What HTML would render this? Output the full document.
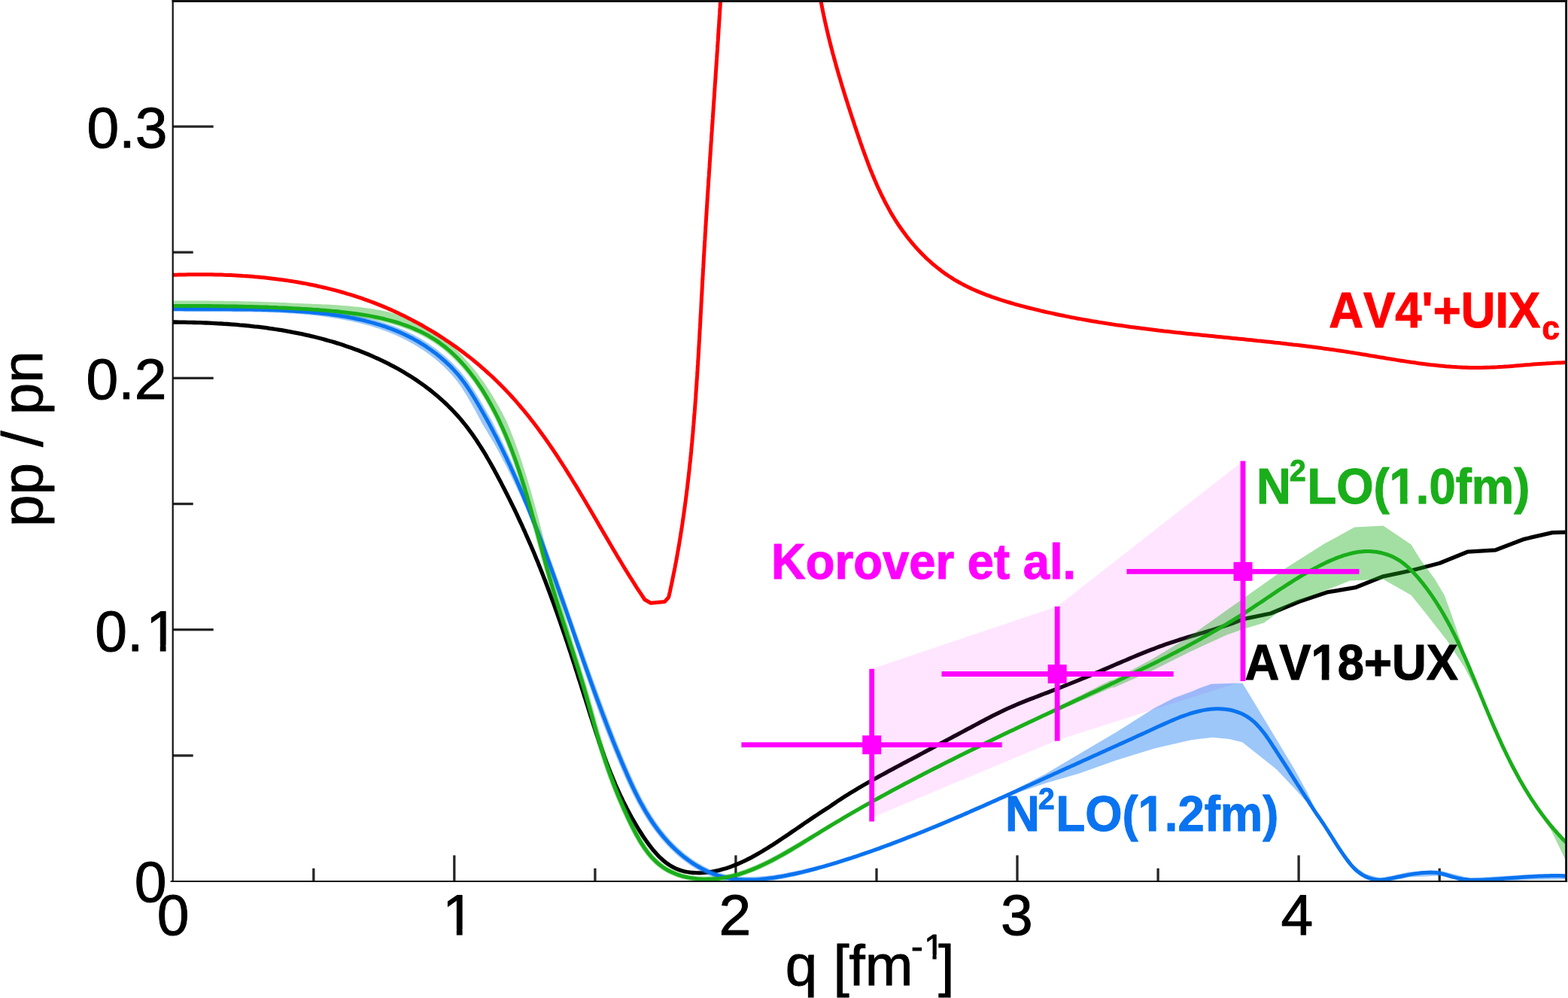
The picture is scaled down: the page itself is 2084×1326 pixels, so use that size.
<!DOCTYPE html>
<html lang="en">
<head>
<meta charset="utf-8">
<title>pp / pn ratio versus q</title>
<style>
html,body{margin:0;padding:0;background:#fff;}
body{width:2084px;height:1326px;overflow:hidden;}
svg{display:block;}
</style>
</head>
<body>
<svg xmlns="http://www.w3.org/2000/svg" width="2084" height="1326" viewBox="0 0 2084 1326">
<rect width="2084" height="1326" fill="#fff"/>
<defs><clipPath id="cp"><rect x="229.7" y="0" width="1851.9" height="1172.0"/></clipPath></defs>
<g stroke="#262626" stroke-width="3.3" fill="none">
<line x1="416.8" y1="1171.0" x2="416.8" y2="1153.7"/>
<line x1="603.8" y1="1171.0" x2="603.8" y2="1136.4"/>
<line x1="790.9" y1="1171.0" x2="790.9" y2="1153.7"/>
<line x1="977.9" y1="1171.0" x2="977.9" y2="1136.4"/>
<line x1="1165.0" y1="1171.0" x2="1165.0" y2="1153.7"/>
<line x1="1352.0" y1="1171.0" x2="1352.0" y2="1136.4"/>
<line x1="1539.1" y1="1171.0" x2="1539.1" y2="1153.7"/>
<line x1="1726.1" y1="1171.0" x2="1726.1" y2="1136.4"/>
<line x1="1913.2" y1="1171.0" x2="1913.2" y2="1153.7"/>
<line x1="229.7" y1="1003.9" x2="256.7" y2="1003.9"/>
<line x1="229.7" y1="836.7" x2="283.7" y2="836.7"/>
<line x1="229.7" y1="669.5" x2="256.7" y2="669.5"/>
<line x1="229.7" y1="502.4" x2="283.7" y2="502.4"/>
<line x1="229.7" y1="335.2" x2="256.7" y2="335.2"/>
<line x1="229.7" y1="168.1" x2="283.7" y2="168.1"/>
</g>
<g clip-path="url(#cp)">
<path d="M229.9 428.0L233.9 428.0L237.9 428.1L241.9 428.1L246.0 428.2L250.0 428.3L254.0 428.4L258.0 428.5L262.0 428.6L266.1 428.7L270.1 428.8L274.1 429.0L278.1 429.2L282.1 429.4L286.2 429.6L290.2 429.8L294.2 430.0L298.2 430.3L302.2 430.5L306.3 430.8L310.3 431.1L314.3 431.4L318.3 431.8L322.3 432.1L326.3 432.5L330.3 432.9L334.3 433.3L338.3 433.8L342.3 434.2L346.3 434.7L350.3 435.2L354.3 435.7L358.3 436.3L362.3 436.9L366.3 437.5L370.2 438.1L374.2 438.7L378.2 439.4L382.1 440.1L386.1 440.8L390.0 441.6L394.0 442.3L397.9 443.1L401.9 443.9L405.8 444.8L409.7 445.7L413.6 446.6L417.6 447.5L421.5 448.5L425.4 449.5L429.3 450.5L433.1 451.6L437.0 452.7L440.9 453.8L444.8 454.9L448.6 456.1L452.5 457.3L456.3 458.6L460.1 459.9L464.0 461.2L467.8 462.5L471.6 463.9L475.4 465.3L479.1 466.8L482.9 468.3L486.6 469.8L490.4 471.3L494.1 472.9L497.8 474.6L501.5 476.2L505.1 477.9L508.8 479.6L512.4 481.4L516.0 483.2L519.6 485.1L523.1 486.9L526.7 488.8L530.2 490.8L533.7 492.8L537.1 494.8L540.6 496.9L544.0 499.0L547.4 501.1L550.7 503.3L554.1 505.5L557.4 507.8L560.6 510.1L563.9 512.4L567.1 514.8L570.2 517.2L573.4 519.7L576.5 522.2L579.6 524.7L582.6 527.3L585.6 529.9L588.6 532.6L591.5 535.3L594.4 538.0L597.2 540.8L600.0 543.7L602.8 546.5L605.5 549.5L608.2 552.4L610.9 555.4L613.5 558.5L616.0 561.6L618.5 564.7L621.0 567.9L623.4 571.1L625.8 574.3L628.2 577.6L630.5 580.9L632.8 584.3L635.0 587.7L637.2 591.1L639.4 594.5L641.6 598.0L643.7 601.4L645.8 604.9L647.8 608.5L649.9 612.0L651.9 615.5L653.9 619.1L655.9 622.6L657.8 626.2L659.8 629.8L661.7 633.4L663.6 637.0L665.5 640.6L667.3 644.1L669.2 647.7L671.0 651.3L672.9 654.9L674.7 658.5L676.5 662.1L678.3 665.7L680.0 669.3L681.8 672.9L683.6 676.5L685.3 680.1L687.0 683.7L688.7 687.4L690.4 691.0L692.1 694.6L693.8 698.2L695.4 701.9L697.1 705.5L698.7 709.2L700.3 712.8L701.9 716.5L703.5 720.1L705.1 723.8L706.7 727.5L708.2 731.1L709.8 734.8L711.3 738.5L712.8 742.2L714.4 745.9L715.9 749.7L717.4 753.4L718.8 757.1L720.3 760.8L721.8 764.6L723.2 768.3L724.7 772.0L726.1 775.8L727.5 779.6L728.9 783.3L730.3 787.1L731.7 790.8L733.1 794.6L734.5 798.4L735.9 802.2L737.3 806.0L738.6 809.8L740.0 813.6L741.3 817.3L742.6 821.2L744.0 825.0L745.3 828.8L746.6 832.6L747.9 836.4L749.2 840.2L750.5 844.0L751.8 847.8L753.1 851.7L754.4 855.5L755.6 859.3L756.9 863.2L758.2 867.0L759.4 870.8L760.7 874.7L761.9 878.5L763.2 882.3L764.4 886.2L765.6 890.0L766.9 893.9L768.1 897.7L769.3 901.6L770.6 905.4L771.8 909.3L773.0 913.1L774.2 917.0L775.4 920.8L776.6 924.7L777.9 928.5L779.1 932.4L780.3 936.2L781.5 940.0L782.7 943.9L783.9 947.7L785.1 951.6L786.4 955.4L787.6 959.2L788.8 963.1L790.1 966.9L791.3 970.7L792.6 974.6L793.9 978.4L795.2 982.2L796.4 986.0L797.8 989.8L799.1 993.6L800.4 997.4L801.8 1001.1L803.1 1004.9L804.5 1008.7L805.9 1012.5L807.4 1016.2L808.8 1019.9L810.3 1023.7L811.8 1027.4L813.3 1031.1L814.8 1034.8L816.4 1038.5L817.9 1042.2L819.5 1045.9L821.2 1049.6L822.8 1053.2L824.5 1056.9L826.3 1060.5L828.0 1064.1L829.8 1067.7L831.6 1071.3L833.5 1074.9L835.4 1078.5L837.3 1082.0L839.2 1085.6L841.2 1089.1L843.3 1092.6L845.3 1096.1L847.4 1099.6L849.6 1103.1L851.8 1106.5L854.0 1110.0L856.3 1113.4L858.6 1116.8L861.0 1120.1L863.4 1123.4L865.9 1126.6L868.4 1129.8L871.1 1132.8L873.8 1135.8L876.5 1138.6L879.4 1141.3L882.3 1143.9L885.4 1146.3L888.5 1148.5L891.7 1150.6L895.0 1152.4L898.5 1154.1L902.0 1155.5L905.7 1156.8L909.5 1157.8L913.3 1158.5L917.2 1159.1L921.2 1159.5L925.2 1159.7L929.2 1159.8L933.3 1159.6L937.3 1159.3L941.3 1158.9L945.3 1158.4L949.3 1157.7L953.2 1156.8L957.1 1155.9L961.0 1154.8L964.9 1153.7L968.8 1152.4L972.7 1151.0L976.5 1149.5L980.3 1148.0L984.0 1146.3L987.8 1144.6L991.5 1142.8L995.2 1141.0L998.9 1139.1L1002.5 1137.1L1006.1 1135.1L1009.7 1133.0L1013.2 1131.0L1016.7 1128.8L1020.2 1126.7L1023.6 1124.5L1027.0 1122.4L1030.4 1120.2L1033.8 1118.0L1037.1 1115.8L1040.3 1113.6L1043.6 1111.5L1046.9 1109.3L1050.1 1107.0L1053.3 1104.8L1056.6 1102.6L1059.8 1100.4L1063.0 1098.2L1066.2 1096.0L1069.5 1093.7L1072.8 1091.5L1076.1 1089.3L1079.4 1087.0L1082.7 1084.8L1086.1 1082.6L1089.5 1080.3L1093.0 1078.1L1096.5 1075.8L1100.0 1073.6L1103.3 1071.3L1106.6 1069.0L1110.0 1066.7L1113.3 1064.4L1116.7 1062.2L1120.1 1060.0L1123.5 1057.8L1126.9 1055.7L1130.3 1053.6L1133.8 1051.5L1137.2 1049.4L1140.7 1047.3L1144.2 1045.3L1147.6 1043.3L1151.1 1041.3L1154.6 1039.3L1158.1 1037.3L1161.6 1035.3L1165.2 1033.4L1168.7 1031.4L1172.2 1029.5L1175.8 1027.6L1179.3 1025.6L1182.9 1023.7L1186.4 1021.8L1190.0 1019.9L1193.5 1018.0L1197.1 1016.1L1200.6 1014.2L1204.2 1012.3L1207.7 1010.4L1211.3 1008.6L1214.9 1006.7L1218.4 1004.8L1222.0 1002.9L1225.5 1001.0L1229.1 999.1L1232.7 997.2L1236.2 995.3L1239.8 993.4L1243.3 991.5L1246.9 989.6L1250.4 987.7L1254.0 985.8L1257.6 983.9L1261.1 982.0L1264.7 980.1L1268.2 978.2L1271.8 976.3L1275.3 974.4L1278.9 972.5L1282.4 970.6L1286.0 968.7L1289.6 966.8L1293.1 964.9L1296.7 963.0L1300.2 961.1L1303.8 959.2L1307.3 957.3L1310.9 955.4L1314.5 953.6L1318.1 951.7L1321.7 949.9L1325.3 948.1L1328.9 946.3L1332.5 944.6L1336.1 942.9L1339.8 941.2L1343.4 939.6L1347.1 938.0L1350.8 936.4L1354.5 934.8L1358.3 933.3L1362.0 931.8L1365.7 930.3L1369.5 928.8L1373.2 927.4L1377.0 925.9L1380.8 924.5L1384.5 923.1L1388.3 921.6L1392.1 920.2L1395.8 918.7L1399.6 917.3L1403.4 915.8L1407.1 914.4L1410.9 912.9L1414.6 911.4L1418.4 909.9L1422.1 908.4L1425.8 906.9L1429.6 905.4L1433.3 903.9L1437.0 902.3L1440.8 900.8L1444.5 899.2L1448.2 897.7L1451.9 896.1L1455.6 894.5L1459.4 893.0L1463.1 891.4L1466.8 889.8L1470.5 888.2L1474.2 886.6L1477.9 885.0L1481.6 883.4L1485.3 881.8L1489.0 880.2L1492.7 878.6L1496.4 877.1L1500.1 875.5L1503.8 873.9L1507.5 872.4L1511.3 870.8L1515.0 869.3L1518.7 867.8L1522.5 866.3L1526.2 864.8L1530.0 863.3L1533.7 861.9L1537.5 860.4L1541.2 859.0L1545.0 857.7L1548.8 856.3L1552.6 855.0L1556.4 853.7L1560.3 852.4L1564.1 851.2L1567.9 849.9L1571.8 848.7L1575.6 847.6L1579.5 846.4L1583.4 845.2L1587.2 844.1L1591.1 843.0L1595.0 841.8L1598.8 840.7L1602.7 839.5L1606.6 838.4L1610.4 837.2L1614.3 836.0L1618.1 834.8L1622.0 833.6L1625.8 832.3L1629.6 831.0L1633.5 829.7L1637.3 828.4L1641.0 827.0L1644.8 825.6L1648.6 824.1L1652.3 822.6L1688.9 815.0L1726.3 799.5L1763.7 786.9L1801.1 780.7L1838.5 765.8L1875.9 758.0L1913.4 748.2L1950.4 733.2L1987.8 730.8L2025.7 716.3L2063.3 707.6L2090.0 707.0" fill="none" stroke="#000000" stroke-width="5.3" stroke-linejoin="round"/>
<path d="M1158.7 888.7L1405.2 805.8L1652.2 612.4L1652.2 905.0L1405.2 983.4L1158.7 1086.5Z" fill="#ff00ff" fill-opacity="0.1" stroke="none"/>
<path d="M229.9 407.0L234.0 407.1L238.0 407.1L242.0 407.1L246.0 407.2L250.0 407.2L254.1 407.2L258.1 407.2L262.1 407.2L266.1 407.3L270.1 407.3L274.1 407.3L278.1 407.3L282.1 407.3L286.1 407.3L290.1 407.3L294.1 407.3L298.1 407.3L302.1 407.3L306.1 407.3L310.2 407.4L314.2 407.4L318.2 407.4L322.2 407.5L326.2 407.5L330.2 407.6L334.2 407.6L338.2 407.7L342.2 407.8L346.2 407.8L350.2 407.9L354.2 408.1L358.2 408.2L362.2 408.3L366.2 408.5L370.2 408.6L374.2 408.8L378.2 409.0L382.2 409.2L386.3 409.4L390.3 409.7L394.3 409.9L398.3 410.2L402.3 410.5L406.3 410.8L410.4 411.1L414.4 411.4L418.4 411.7L422.5 412.1L426.5 412.5L430.5 412.9L434.6 413.3L438.6 413.8L442.6 414.3L446.7 414.8L450.7 415.4L454.7 416.0L458.7 416.6L462.7 417.3L466.7 418.0L470.7 418.7L474.7 419.5L478.7 420.3L482.7 421.2L486.6 422.1L490.6 423.1L494.5 424.1L498.4 425.1L502.3 426.2L506.2 427.4L510.1 428.6L513.9 429.9L517.8 431.2L521.6 432.5L525.4 434.0L529.2 435.5L532.9 437.0L536.7 438.6L540.4 440.3L544.0 442.0L547.7 443.8L551.3 445.7L554.9 447.7L558.5 449.7L562.0 451.8L565.5 454.0L569.0 456.2L572.4 458.5L575.7 460.9L579.1 463.3L582.3 465.8L585.6 468.4L588.8 471.0L591.9 473.7L595.0 476.4L598.0 479.2L600.9 482.1L603.8 485.0L606.7 488.0L609.5 491.0L612.2 494.1L614.8 497.3L617.4 500.5L619.9 503.8L622.3 507.1L624.6 510.4L626.9 513.8L629.1 517.2L631.3 520.6L633.4 524.1L635.5 527.5L637.6 531.0L639.7 534.5L641.7 537.9L643.7 541.4L645.8 544.9L647.7 548.4L649.7 552.0L651.7 555.5L653.6 559.0L655.4 562.6L657.3 566.2L659.1 569.8L660.9 573.4L662.7 577.0L664.5 580.6L666.3 584.2L668.1 587.9L669.8 591.5L671.5 595.1L673.2 598.8L674.9 602.4L676.6 606.1L678.3 609.8L679.9 613.5L681.6 617.1L683.2 620.8L684.8 624.5L686.4 628.2L688.0 631.9L689.6 635.6L691.2 639.3L692.8 643.0L694.3 646.7L695.8 650.4L697.4 654.2L698.9 657.9L700.4 661.6L701.9 665.3L703.4 669.1L704.9 672.8L706.4 676.5L707.9 680.2L709.4 684.0L710.9 687.7L712.4 691.4L713.8 695.2L715.3 698.9L716.7 702.6L718.2 706.4L719.6 710.1L721.0 713.9L722.4 717.6L723.9 721.4L725.3 725.1L726.7 728.9L728.1 732.6L729.4 736.4L730.8 740.2L732.2 743.9L733.6 747.7L734.9 751.5L736.3 755.2L737.6 759.0L739.0 762.8L740.3 766.5L741.7 770.3L743.0 774.1L744.3 777.9L745.7 781.6L747.0 785.4L748.3 789.2L749.6 793.0L751.0 796.8L752.3 800.5L753.6 804.3L754.9 808.1L756.2 811.9L757.5 815.7L758.9 819.4L760.2 823.2L761.5 827.0L762.8 830.8L764.1 834.6L765.4 838.4L766.7 842.1L768.1 845.9L769.4 849.7L770.7 853.5L772.1 857.2L773.4 861.0L774.7 864.8L776.0 868.6L777.4 872.3L778.7 876.1L780.1 879.9L781.4 883.6L782.7 887.4L784.1 891.2L785.4 895.0L786.8 898.7L788.2 902.5L789.5 906.3L790.9 910.0L792.3 913.8L793.6 917.5L795.0 921.3L796.4 925.0L797.8 928.8L799.2 932.6L800.6 936.3L802.0 940.1L803.4 943.8L804.9 947.5L806.3 951.3L807.7 955.0L809.1 958.8L810.6 962.5L812.0 966.3L813.5 970.0L814.9 973.7L816.4 977.5L817.9 981.2L819.3 984.9L820.8 988.6L822.3 992.4L823.8 996.1L825.4 999.8L826.9 1003.5L828.4 1007.2L830.0 1010.9L831.6 1014.6L833.1 1018.3L834.7 1022.0L836.3 1025.7L837.9 1029.3L839.6 1033.0L841.2 1036.6L842.9 1040.3L844.6 1043.9L846.3 1047.5L848.1 1051.1L849.8 1054.6L851.6 1058.2L853.5 1061.7L855.3 1065.2L857.3 1068.6L859.2 1072.0L861.2 1075.5L863.2 1078.8L865.3 1082.2L867.4 1085.5L869.5 1088.8L871.7 1092.0L874.0 1095.2L876.3 1098.3L878.6 1101.5L881.0 1104.5L883.5 1107.6L886.0 1110.6L888.6 1113.5L891.2 1116.4L893.9 1119.3L896.7 1122.1L899.5 1124.8L902.4 1127.5L905.3 1130.1L908.4 1132.7L911.4 1135.2L914.6 1137.6L917.7 1140.0L921.0 1142.3L924.3 1144.5L927.6 1146.5L931.0 1148.5L934.4 1150.4L937.9 1152.2L941.3 1153.9L944.9 1155.5L948.5 1157.0L952.1 1158.3L955.7 1159.5L959.3 1160.6L963.0 1161.6L966.8 1162.4L970.5 1163.1L974.3 1163.7L978.1 1164.2L981.9 1164.6L985.8 1164.8L989.7 1165.0L993.6 1165.0L997.5 1165.0L1001.4 1164.9L1005.4 1164.8L1009.3 1164.5L1013.3 1164.2L1017.3 1163.9L1021.3 1163.5L1025.3 1163.0L1029.2 1162.4L1033.2 1161.8L1037.2 1161.2L1041.2 1160.5L1045.1 1159.8L1049.1 1159.1L1053.0 1158.3L1056.9 1157.5L1060.8 1156.7L1064.7 1155.9L1068.6 1155.0L1072.5 1154.1L1076.3 1153.2L1080.2 1152.2L1084.0 1151.3L1087.9 1150.3L1091.7 1149.3L1095.5 1148.2L1099.3 1147.2L1103.1 1146.1L1106.9 1144.9L1110.7 1143.8L1114.5 1142.6L1118.3 1141.4L1122.1 1140.2L1125.8 1139.0L1129.6 1137.8L1133.4 1136.5L1137.2 1135.3L1140.9 1134.0L1144.7 1132.7L1148.5 1131.5L1152.2 1130.2L1156.0 1128.8L1159.8 1127.5L1163.5 1126.2L1167.3 1124.8L1171.1 1123.5L1174.8 1122.1L1178.6 1120.7L1182.3 1119.3L1186.1 1117.9L1189.8 1116.5L1193.6 1115.1L1197.3 1113.6L1201.0 1112.2L1204.8 1110.7L1208.5 1109.3L1212.3 1107.8L1216.0 1106.3L1219.7 1104.9L1223.5 1103.4L1227.2 1101.9L1230.9 1100.3L1234.6 1098.8L1238.3 1097.3L1242.1 1095.8L1245.8 1094.2L1249.5 1092.7L1253.2 1091.1L1256.9 1089.6L1260.6 1088.0L1264.3 1086.4L1268.0 1084.8L1271.7 1083.3L1275.4 1081.7L1279.1 1080.1L1282.8 1078.5L1286.5 1076.9L1290.2 1075.3L1293.9 1073.6L1297.6 1072.0L1301.3 1070.4L1304.9 1068.8L1308.6 1067.2L1312.3 1065.5L1316.0 1063.9L1319.6 1062.3L1323.3 1060.6L1327.0 1059.0L1330.6 1057.3L1334.3 1055.7L1338.0 1054.0L1341.6 1052.4L1345.3 1050.7L1348.9 1049.1L1352.0 1047.5L1390.0 1028.0L1434.0 1002.0L1484.0 972.5L1534.0 940.9L1560.0 927.5L1584.0 918.8L1595.0 914.0L1610.0 908.8L1651.3 907.5L1685.9 964.8L1720.4 1022.0L1737.0 1052.0L1750.0 1078.5L1767.2 1104.5L1786.4 1133.0L1800.0 1151.0L1815.0 1161.0L1834.0 1166.5L1850.0 1163.5L1872.7 1158.5L1913.0 1156.5L1953.0 1166.5L2034.0 1162.0L2090.0 1161.0L2090.0 1168.0L2034.0 1169.0L1953.0 1173.0L1913.0 1163.5L1872.7 1165.5L1850.0 1170.5L1834.0 1173.0L1815.0 1168.0L1800.0 1158.0L1786.4 1140.0L1767.2 1111.0L1750.0 1085.0L1737.0 1066.0L1720.0 1047.0L1696.4 1022.0L1651.3 986.2L1634.0 982.0L1611.5 979.8L1584.0 983.1L1534.0 994.6L1484.0 1010.0L1434.0 1027.7L1390.0 1040.5L1352.0 1053.5L1351.1 1053.8L1347.4 1055.5L1343.8 1057.1L1340.1 1058.8L1336.4 1060.4L1332.8 1062.1L1329.1 1063.7L1325.4 1065.4L1321.8 1067.0L1318.1 1068.6L1314.4 1070.3L1310.7 1071.9L1307.0 1073.5L1303.4 1075.2L1299.7 1076.8L1296.0 1078.4L1292.3 1080.0L1288.6 1081.6L1284.9 1083.2L1281.2 1084.8L1277.5 1086.4L1273.8 1088.0L1270.1 1089.6L1266.4 1091.2L1262.7 1092.8L1258.9 1094.4L1255.2 1095.9L1251.5 1097.5L1247.8 1099.0L1244.1 1100.6L1240.3 1102.1L1236.6 1103.6L1232.9 1105.2L1229.1 1106.7L1225.4 1108.2L1221.7 1109.7L1217.9 1111.2L1214.2 1112.7L1210.4 1114.1L1206.7 1115.6L1202.9 1117.1L1199.2 1118.5L1195.4 1119.9L1191.7 1121.4L1187.9 1122.8L1184.1 1124.2L1180.4 1125.6L1176.6 1127.0L1172.8 1128.4L1169.1 1129.7L1165.3 1131.1L1161.5 1132.4L1157.7 1133.7L1154.0 1135.1L1150.2 1136.4L1146.4 1137.7L1142.6 1139.0L1138.8 1140.2L1135.0 1141.5L1131.2 1142.7L1127.4 1144.0L1123.6 1145.2L1119.8 1146.4L1116.0 1147.6L1112.2 1148.7L1108.4 1149.9L1104.6 1151.0L1100.8 1152.2L1097.0 1153.3L1093.1 1154.5L1089.3 1155.6L1085.5 1156.7L1081.6 1157.8L1077.8 1158.8L1073.9 1159.9L1070.0 1160.9L1066.1 1161.9L1062.2 1162.8L1058.3 1163.8L1054.3 1164.7L1050.4 1165.6L1046.4 1166.4L1042.4 1167.2L1038.4 1168.0L1034.4 1168.8L1030.3 1169.5L1026.3 1170.2L1022.2 1170.8L1018.1 1171.3L1014.0 1171.8L1010.0 1172.2L1005.9 1172.6L1001.8 1172.9L997.6 1173.0L993.5 1173.0L989.5 1173.0L985.4 1172.8L981.3 1172.5L977.2 1172.2L973.2 1171.7L969.2 1171.0L965.1 1170.3L961.2 1169.4L957.2 1168.3L953.3 1167.2L949.4 1165.9L945.5 1164.4L941.7 1162.9L938.0 1161.2L934.3 1159.4L930.6 1157.5L927.0 1155.5L923.4 1153.4L919.9 1151.2L916.5 1148.9L913.1 1146.5L909.7 1144.0L906.4 1141.5L903.2 1138.9L900.1 1136.2L897.0 1133.4L894.0 1130.6L891.0 1127.7L888.1 1124.8L885.3 1121.9L882.6 1118.8L879.9 1115.8L877.3 1112.7L874.7 1109.5L872.3 1106.3L869.8 1103.1L867.4 1099.8L865.1 1096.5L862.9 1093.2L860.6 1089.8L858.5 1086.4L856.4 1083.0L854.3 1079.5L852.3 1076.0L850.3 1072.5L848.3 1069.0L846.4 1065.4L844.5 1061.8L842.7 1058.2L840.9 1054.6L839.1 1051.0L837.4 1047.3L835.6 1043.6L833.9 1040.0L832.3 1036.3L830.6 1032.6L829.0 1028.9L827.4 1025.2L825.8 1021.5L824.2 1017.7L822.6 1014.0L821.1 1010.3L819.5 1006.6L818.0 1002.8L816.4 999.1L814.9 995.4L813.4 991.6L811.9 987.9L810.4 984.1L808.9 980.4L807.5 976.7L806.0 972.9L804.5 969.2L803.1 965.4L801.6 961.6L800.2 957.9L798.8 954.1L797.4 950.4L796.0 946.6L794.6 942.8L793.2 939.0L791.9 935.3L790.5 931.5L789.2 927.7L787.8 923.9L786.5 920.1L785.1 916.3L783.8 912.6L782.5 908.8L781.2 905.0L779.9 901.2L778.5 897.4L777.2 893.6L775.9 889.8L774.6 886.0L773.3 882.2L772.0 878.4L770.8 874.6L769.5 870.9L768.2 867.1L766.9 863.3L765.6 859.5L764.3 855.7L763.0 851.9L761.8 848.1L760.5 844.3L759.2 840.5L757.9 836.7L756.6 832.9L755.3 829.1L754.0 825.4L752.7 821.6L751.4 817.8L750.1 814.0L748.8 810.2L747.5 806.5L746.1 802.7L744.8 798.9L743.5 795.1L742.2 791.3L740.9 787.6L739.5 783.8L738.2 780.0L736.9 776.3L735.5 772.5L734.2 768.7L732.9 765.0L731.5 761.2L730.2 757.4L728.8 753.7L727.4 749.9L726.1 746.2L724.7 742.4L723.3 738.6L722.0 734.9L720.6 731.2L719.2 727.4L717.8 723.7L716.4 719.9L715.0 716.2L713.5 712.4L712.1 708.7L710.7 705.0L709.2 701.2L707.8 697.5L706.3 693.8L704.9 690.1L703.4 686.4L701.9 682.6L700.4 678.9L698.9 675.2L697.4 671.5L695.8 667.9L694.1 664.2L692.5 660.6L690.8 656.9L689.1 653.3L687.4 649.7L685.8 646.0L684.0 642.4L682.3 638.8L680.6 635.2L678.8 631.6L677.1 628.0L675.3 624.4L673.5 620.8L671.7 617.3L669.8 613.7L668.0 610.2L666.1 606.6L664.3 603.1L662.4 599.6L660.5 596.1L658.5 592.6L656.6 589.1L654.6 585.7L652.6 582.2L650.5 578.8L648.5 575.4L646.5 571.9L644.4 568.5L642.3 565.2L640.3 561.7L638.5 558.2L636.6 554.7L634.7 551.2L632.8 547.7L630.9 544.2L629.0 540.8L627.0 537.3L625.1 533.9L623.1 530.4L621.1 527.1L619.1 523.7L617.0 520.4L614.9 517.1L612.8 513.8L610.6 510.7L608.3 507.6L605.9 504.5L603.5 501.6L600.9 498.6L598.3 495.8L595.7 492.9L593.0 490.2L590.2 487.5L587.3 484.8L584.4 482.2L581.5 479.6L578.5 477.2L575.5 474.7L572.4 472.3L569.2 470.0L566.0 467.7L562.8 465.5L559.5 463.4L556.2 461.3L552.9 459.3L549.5 457.3L546.1 455.4L542.7 453.5L539.3 451.7L535.8 450.0L532.3 448.3L528.8 446.6L525.2 445.0L521.6 443.5L518.0 442.0L514.4 440.6L510.7 439.2L507.0 437.9L503.3 436.6L499.6 435.4L495.8 434.2L492.0 433.1L488.2 432.0L484.4 431.0L480.6 430.0L476.7 429.1L472.9 428.2L469.0 427.3L465.1 426.5L461.2 425.7L457.3 424.9L453.4 424.2L449.4 423.5L445.5 422.9L441.5 422.3L437.6 421.7L433.6 421.1L429.6 420.6L425.7 420.1L421.7 419.6L417.7 419.1L413.7 418.7L409.7 418.3L405.8 417.9L401.8 417.5L397.8 417.2L393.8 416.9L389.8 416.6L385.9 416.4L381.9 416.2L377.9 416.0L373.9 415.8L369.9 415.6L365.9 415.5L362.0 415.3L358.0 415.2L354.0 415.1L350.0 414.9L346.0 414.8L342.0 414.8L338.0 414.7L334.1 414.6L330.1 414.6L326.1 414.5L322.1 414.5L318.1 414.4L314.1 414.4L310.1 414.4L306.1 414.3L302.1 414.3L298.1 414.3L294.1 414.3L290.1 414.3L286.1 414.3L282.1 414.3L278.1 414.3L274.1 414.3L270.1 414.3L266.1 414.3L262.1 414.2L258.0 414.2L254.0 414.2L250.0 414.2L246.0 414.2L241.9 414.1L237.9 414.1L233.9 414.1L229.9 414.0Z" fill="#0a73f0" fill-opacity="0.4" stroke="none"/>
<path d="M229.9 399.5L234.1 399.5L238.2 399.5L242.4 399.5L246.5 399.5L250.6 399.5L254.7 399.5L258.7 399.5L262.8 399.5L266.9 399.6L270.9 399.6L274.9 399.6L278.9 399.6L282.9 399.7L286.9 399.7L290.9 399.8L294.9 399.8L298.8 399.9L302.8 399.9L306.8 400.0L310.7 400.0L314.7 400.1L318.6 400.2L322.5 400.3L326.5 400.4L330.4 400.4L334.3 400.5L338.3 400.7L342.2 400.8L346.1 400.9L350.1 401.0L354.0 401.2L357.9 401.3L361.9 401.4L365.8 401.6L369.8 401.8L373.7 401.9L377.7 402.1L381.7 402.3L385.7 402.5L389.6 402.7L393.6 402.9L397.6 403.1L401.7 403.3L405.7 403.4L409.7 403.6L413.8 403.7L417.9 403.9L422.0 404.0L426.1 404.2L430.2 404.4L434.3 404.6L438.4 404.8L442.6 405.0L446.8 405.3L450.9 405.6L455.1 405.9L459.2 406.2L463.4 406.6L467.6 407.0L471.8 407.4L475.9 407.8L480.1 408.3L484.3 408.9L488.4 409.4L492.6 410.0L496.7 410.7L500.9 411.4L505.0 412.1L509.1 412.9L513.2 413.8L517.3 414.6L521.3 415.9L525.2 417.2L529.1 418.6L533.0 420.1L536.9 421.6L540.7 423.2L544.5 424.8L548.3 426.5L552.0 428.2L555.7 429.9L559.4 431.7L563.0 433.5L566.6 435.4L570.2 437.4L573.7 439.5L577.2 441.6L580.6 443.8L583.9 446.1L587.3 448.5L590.5 450.9L593.7 453.4L596.8 456.0L599.9 458.7L602.9 461.4L605.9 464.2L608.8 467.1L611.6 470.0L614.4 473.0L617.2 476.0L619.9 479.1L622.7 482.1L625.4 485.2L628.0 488.3L630.7 491.5L633.2 494.8L635.8 498.0L638.2 501.4L640.7 504.7L643.1 508.1L645.4 511.6L647.7 515.0L650.0 518.5L652.2 522.1L654.4 525.6L656.6 529.2L658.7 532.8L660.8 536.4L662.9 540.0L664.9 543.7L666.9 547.3L668.8 551.0L670.7 554.7L672.6 558.4L674.3 562.2L675.9 566.0L677.4 569.8L679.0 573.6L680.5 577.4L682.0 581.2L683.5 585.0L684.9 588.9L686.3 592.7L687.7 596.5L689.0 600.3L690.4 604.2L691.7 608.0L692.9 611.8L694.2 615.7L695.4 619.5L696.6 623.4L697.9 627.2L699.1 631.0L700.3 634.9L701.5 638.7L702.6 642.6L703.8 646.4L704.9 650.3L706.0 654.1L707.1 658.0L708.2 661.8L709.3 665.7L710.4 669.5L711.4 673.4L712.5 677.2L713.5 681.1L714.6 684.9L715.6 688.8L716.6 692.7L717.6 696.5L718.6 700.4L719.7 704.2L720.7 708.1L721.7 712.0L722.6 715.8L723.6 719.7L724.6 723.6L725.6 727.4L726.6 731.3L727.6 735.1L728.6 739.0L729.6 742.8L730.6 746.7L731.6 750.6L732.6 754.4L733.7 758.3L734.7 762.1L735.8 765.9L736.8 769.8L737.9 773.6L739.0 777.5L740.1 781.3L741.2 785.2L742.3 789.0L743.4 792.9L744.5 796.7L745.7 800.5L746.8 804.4L748.0 808.2L749.1 812.1L750.3 815.9L751.4 819.8L752.6 823.6L753.7 827.5L754.9 831.3L756.1 835.2L757.3 839.0L758.4 842.9L759.6 846.7L760.8 850.6L761.9 854.4L763.1 858.3L764.3 862.1L765.5 866.0L766.7 869.8L767.9 873.6L769.2 877.5L770.4 881.3L771.6 885.2L772.7 889.0L773.9 892.9L775.1 896.7L776.3 900.6L777.4 904.4L778.6 908.3L779.7 912.2L780.9 916.0L782.0 919.9L783.1 923.8L784.2 927.6L785.3 931.5L786.4 935.4L787.4 939.2L788.5 943.1L789.6 947.0L790.7 950.8L791.7 954.7L792.8 958.5L793.9 962.4L795.0 966.2L796.0 970.0L797.1 973.9L798.2 977.7L799.3 981.5L800.5 985.3L801.6 989.1L802.8 992.9L803.9 996.7L805.1 1000.4L806.3 1004.2L807.5 1008.0L808.8 1011.7L810.0 1015.4L811.3 1019.2L812.6 1022.9L813.9 1026.6L815.3 1030.3L816.6 1034.1L818.0 1037.8L819.4 1041.5L820.9 1045.2L822.3 1048.9L823.8 1052.6L825.3 1056.3L826.9 1060.0L828.4 1063.7L830.0 1067.4L831.6 1071.1L833.3 1074.8L835.0 1078.5L836.7 1082.2L838.4 1085.9L840.2 1089.6L842.0 1093.3L843.8 1097.0L845.7 1100.7L847.6 1104.3L849.5 1107.9L851.5 1111.5L853.5 1115.0L855.6 1118.5L857.8 1121.9L860.0 1125.2L862.3 1128.4L864.7 1131.5L867.1 1134.5L869.6 1137.3L872.2 1140.1L874.9 1142.7L877.7 1145.1L880.5 1147.4L883.5 1149.5L886.6 1151.5L889.8 1153.4L893.1 1155.1L896.4 1156.6L899.9 1158.0L903.4 1159.3L907.0 1160.4L910.6 1161.4L914.3 1162.3L918.1 1163.0L921.9 1163.6L925.7 1164.0L929.6 1164.4L933.5 1164.6L937.4 1164.7L941.4 1164.6L945.3 1164.5L949.2 1164.2L953.2 1163.9L957.1 1163.4L961.0 1162.8L964.9 1162.1L968.7 1161.3L972.6 1160.4L976.4 1159.5L980.2 1158.4L984.0 1157.2L987.7 1156.0L991.5 1154.7L995.2 1153.3L998.9 1151.8L1002.6 1150.3L1006.2 1148.7L1009.9 1147.1L1013.5 1145.4L1017.1 1143.7L1020.7 1141.9L1024.3 1140.1L1027.8 1138.2L1031.4 1136.3L1034.9 1134.4L1038.4 1132.4L1041.9 1130.4L1045.3 1128.4L1048.8 1126.5L1052.3 1124.5L1055.7 1122.5L1059.1 1120.5L1062.6 1118.5L1066.0 1116.5L1069.4 1114.5L1072.8 1112.5L1076.2 1110.5L1079.6 1108.4L1083.0 1106.4L1086.5 1104.4L1089.9 1102.4L1093.3 1100.3L1096.7 1098.3L1100.1 1096.3L1103.5 1094.2L1107.0 1092.2L1110.4 1090.1L1113.8 1088.1L1117.3 1086.0L1120.7 1084.0L1124.2 1082.0L1127.6 1080.0L1131.1 1077.9L1134.6 1075.9L1138.1 1073.9L1141.6 1071.9L1145.1 1070.0L1148.6 1068.0L1152.1 1066.0L1155.6 1064.0L1159.1 1062.1L1162.6 1060.1L1166.2 1058.2L1169.7 1056.2L1173.2 1054.3L1176.8 1052.4L1180.3 1050.4L1183.9 1048.5L1187.4 1046.6L1191.0 1044.7L1194.5 1042.8L1198.1 1040.9L1201.6 1039.0L1205.2 1037.2L1208.7 1035.3L1212.3 1033.4L1215.9 1031.6L1219.4 1029.7L1223.0 1027.8L1226.6 1026.0L1230.1 1024.2L1233.7 1022.3L1237.3 1020.5L1240.9 1018.7L1244.4 1016.9L1248.0 1015.0L1251.6 1013.2L1255.2 1011.4L1258.8 1009.6L1262.3 1007.8L1265.9 1006.0L1269.5 1004.3L1273.1 1002.5L1276.7 1000.7L1280.3 998.9L1283.9 997.1L1287.5 995.4L1291.1 993.6L1294.7 991.9L1298.3 990.1L1301.9 988.4L1305.5 986.6L1309.1 984.9L1312.7 983.1L1316.3 981.4L1319.9 979.6L1323.5 977.9L1327.1 976.2L1330.7 974.5L1334.3 972.7L1337.9 971.0L1341.5 969.3L1345.2 967.6L1348.8 965.8L1352.4 964.1L1356.0 962.4L1359.6 960.7L1363.3 959.0L1366.9 957.3L1370.5 955.6L1374.1 953.9L1377.7 952.2L1381.4 950.5L1385.0 948.8L1388.6 947.1L1392.2 945.4L1395.9 943.7L1399.5 942.0L1403.1 940.2L1406.7 938.4L1410.3 936.6L1413.9 934.9L1417.5 933.1L1421.1 931.3L1424.6 929.5L1428.2 927.7L1431.8 926.0L1435.4 924.2L1439.0 922.4L1442.6 920.6L1446.2 918.8L1449.8 917.0L1453.4 915.2L1457.0 913.4L1460.6 911.6L1464.2 909.8L1467.8 908.0L1471.4 906.2L1474.9 904.4L1480.0 903.2L1530.0 876.4L1580.0 846.6L1630.0 811.1L1660.0 789.8L1710.0 754.3L1760.0 722.6L1800.1 700.6L1838.5 698.6L1875.5 723.6L1888.0 743.7L1907.2 769.7L1919.7 790.8L1929.3 817.0L1940.0 848.0L1952.5 886.0L1971.0 927.0L1985.5 960.0L2004.7 1003.4L2038.1 1063.5L2064.5 1099.0L2081.7 1116.5L2090.0 1124.0L2090.0 1158.0L2081.7 1144.5L2062.0 1104.0L2034.6 1063.5L2001.2 1003.4L1982.0 960.0L1967.5 927.0L1946.0 886.0L1922.4 849.9L1896.6 817.0L1875.5 790.8L1838.5 769.7L1794.4 771.6L1760.0 785.0L1710.0 805.2L1680.0 827.4L1652.0 836.0L1630.0 843.7L1580.0 866.8L1530.0 891.7L1480.0 913.8L1479.0 912.9L1475.3 914.5L1471.6 916.1L1467.9 917.7L1464.2 919.3L1460.5 921.0L1456.8 922.6L1453.2 924.2L1449.5 925.8L1445.8 927.4L1442.1 929.0L1438.4 930.6L1434.7 932.2L1431.1 933.8L1427.4 935.4L1423.7 937.0L1420.1 938.6L1416.4 940.2L1412.7 941.9L1409.0 943.5L1405.4 945.1L1401.7 946.7L1398.1 948.4L1394.4 950.1L1390.8 951.8L1387.2 953.5L1383.6 955.2L1380.0 956.9L1376.3 958.6L1372.7 960.3L1369.1 962.0L1365.5 963.7L1361.9 965.4L1358.2 967.1L1354.6 968.8L1351.0 970.5L1347.4 972.3L1343.8 974.0L1340.2 975.7L1336.6 977.4L1333.0 979.1L1329.4 980.9L1325.7 982.6L1322.1 984.3L1318.5 986.1L1314.9 987.8L1311.3 989.5L1307.7 991.3L1304.1 993.0L1300.5 994.8L1297.0 996.5L1293.4 998.3L1289.8 1000.1L1286.2 1001.8L1282.6 1003.6L1279.0 1005.4L1275.4 1007.1L1271.8 1008.9L1268.3 1010.7L1264.7 1012.5L1261.1 1014.3L1257.5 1016.1L1253.9 1017.9L1250.4 1019.7L1246.8 1021.5L1243.2 1023.3L1239.7 1025.1L1236.1 1027.0L1232.5 1028.8L1229.0 1030.6L1225.4 1032.5L1221.8 1034.3L1218.3 1036.2L1214.7 1038.0L1211.2 1039.9L1207.6 1041.8L1204.1 1043.6L1200.5 1045.5L1197.0 1047.4L1193.4 1049.3L1189.9 1051.2L1186.3 1053.1L1182.8 1055.0L1179.3 1056.9L1175.7 1058.9L1172.2 1060.8L1168.7 1062.7L1165.2 1064.7L1161.6 1066.6L1158.1 1068.6L1154.6 1070.5L1151.1 1072.5L1147.6 1074.5L1144.1 1076.5L1140.7 1078.5L1137.2 1080.4L1133.7 1082.4L1130.3 1084.5L1126.8 1086.5L1123.4 1088.5L1119.9 1090.5L1116.5 1092.5L1113.1 1094.6L1109.6 1096.6L1106.2 1098.7L1102.8 1100.7L1099.5 1102.8L1096.1 1104.9L1092.8 1107.1L1089.4 1109.2L1086.1 1111.3L1082.7 1113.4L1079.4 1115.6L1076.0 1117.7L1072.7 1119.8L1069.3 1122.0L1065.9 1124.1L1062.5 1126.2L1059.1 1128.3L1055.7 1130.4L1052.3 1132.5L1048.8 1134.5L1045.3 1136.5L1041.8 1138.5L1038.3 1140.5L1034.7 1142.4L1031.1 1144.4L1027.5 1146.3L1023.9 1148.1L1020.2 1150.0L1016.5 1151.7L1012.8 1153.5L1009.1 1155.2L1005.3 1156.8L1001.5 1158.3L997.7 1159.8L993.8 1161.3L990.0 1162.6L986.1 1163.9L982.2 1165.1L978.2 1166.2L974.2 1167.2L970.2 1168.2L966.2 1169.0L962.1 1169.7L958.0 1170.3L953.9 1170.8L949.8 1171.2L945.6 1171.5L941.5 1171.6L937.4 1171.7L933.2 1171.6L929.1 1171.3L925.0 1171.0L920.9 1170.5L916.9 1169.9L912.9 1169.1L908.9 1168.2L905.0 1167.1L901.1 1165.9L897.4 1164.6L893.6 1163.1L890.0 1161.4L886.4 1159.6L882.9 1157.6L879.6 1155.4L876.3 1153.1L873.1 1150.6L870.1 1147.9L867.2 1145.1L864.4 1142.2L861.7 1139.1L859.1 1135.9L856.6 1132.6L854.1 1129.3L851.8 1125.8L849.5 1122.3L847.4 1118.7L845.2 1115.1L843.2 1111.4L841.2 1107.7L839.2 1103.9L837.3 1100.2L835.5 1096.4L833.7 1092.7L831.9 1089.0L830.1 1085.2L828.4 1081.5L826.7 1077.7L825.0 1074.0L823.4 1070.3L821.8 1066.5L820.2 1062.8L818.6 1059.1L817.1 1055.3L815.6 1051.6L814.1 1047.8L812.6 1044.1L811.2 1040.4L809.8 1036.6L808.4 1032.9L807.1 1029.1L805.7 1025.3L804.4 1021.6L803.1 1017.8L801.8 1014.0L800.6 1010.3L799.3 1006.5L798.1 1002.7L796.9 998.9L795.7 995.1L794.6 991.2L793.4 987.4L792.3 983.6L791.2 979.8L790.0 975.9L788.9 972.1L787.8 968.2L786.8 964.4L785.7 960.5L784.6 956.7L783.5 952.8L782.5 948.9L781.4 945.1L780.3 941.2L779.2 937.4L778.1 933.5L777.1 929.7L776.0 925.8L774.8 922.0L773.7 918.1L772.6 914.3L771.5 910.4L770.3 906.6L769.1 902.7L768.0 898.9L766.8 895.1L765.6 891.2L764.4 887.4L763.2 883.6L762.0 879.7L760.8 875.9L759.6 872.1L758.4 868.2L757.2 864.4L755.9 860.6L754.7 856.7L753.5 852.9L752.2 849.1L751.0 845.2L749.8 841.4L748.5 837.6L747.3 833.7L746.1 829.9L744.9 826.1L743.6 822.2L742.4 818.4L741.2 814.6L740.0 810.7L738.8 806.9L737.6 803.1L736.4 799.2L735.2 795.4L734.0 791.5L732.8 787.7L731.7 783.9L730.5 780.0L729.4 776.2L728.2 772.3L727.1 768.5L726.0 764.6L724.9 760.8L723.8 756.9L722.7 753.0L721.6 749.2L720.6 745.3L719.5 741.5L718.5 737.6L717.4 733.8L716.4 729.9L715.3 726.1L714.3 722.2L713.3 718.4L712.2 714.5L711.2 710.7L710.1 706.8L709.1 703.0L708.1 699.1L707.0 695.3L706.0 691.4L704.9 687.6L703.9 683.8L702.8 679.9L701.7 676.1L700.6 672.3L699.6 668.5L698.4 664.6L697.3 660.8L696.2 657.0L695.1 653.2L693.9 649.4L692.8 645.6L691.6 641.8L690.4 638.0L689.2 634.2L687.9 630.5L686.7 626.7L685.4 622.9L684.1 619.2L682.8 615.4L681.5 611.7L680.1 607.9L678.7 604.2L677.3 600.4L675.9 596.7L674.4 593.0L673.0 589.3L671.4 585.6L669.9 581.9L668.3 578.2L666.7 574.5L665.1 570.8L663.4 567.2L661.7 563.5L660.0 559.9L658.2 556.2L656.4 552.6L654.6 549.0L652.7 545.4L650.8 541.8L648.9 538.2L646.9 534.7L644.9 531.2L642.8 527.7L640.7 524.3L638.5 520.9L636.3 517.5L634.1 514.1L631.8 510.8L629.5 507.6L627.1 504.4L624.7 501.2L622.3 498.1L619.8 495.0L617.2 492.0L614.7 489.0L612.1 486.1L609.4 483.2L606.8 480.4L604.0 477.6L601.3 474.9L598.5 472.3L595.6 469.7L592.7 467.2L589.8 464.7L586.8 462.4L583.8 460.1L580.7 457.9L577.5 455.7L574.4 453.7L571.1 451.7L567.8 449.8L564.5 447.9L561.1 446.1L557.7 444.4L554.2 442.8L550.7 441.2L547.2 439.7L543.6 438.3L540.0 436.9L536.3 435.5L532.6 434.3L528.9 433.0L525.1 431.9L521.3 430.8L517.5 429.7L513.7 428.7L509.8 427.7L505.9 426.8L502.0 425.9L498.1 425.1L494.1 424.3L490.1 423.6L486.1 422.9L482.1 422.2L478.1 421.6L474.0 421.0L470.0 420.4L465.9 419.9L461.9 419.4L457.8 418.9L453.7 418.4L449.7 418.0L445.6 417.6L441.5 417.3L437.4 416.9L433.3 416.6L429.3 416.2L425.2 415.9L421.1 415.6L417.1 415.4L413.1 415.1L409.0 414.8L405.0 414.6L401.0 414.3L397.0 414.1L393.0 413.9L389.1 413.7L385.1 413.5L381.1 413.3L377.2 413.1L373.3 412.9L369.3 412.8L365.4 412.6L361.5 412.4L357.5 412.3L353.6 412.1L349.7 412.0L345.8 411.9L341.9 411.8L338.0 411.7L334.0 411.5L330.1 411.4L326.2 411.4L322.3 411.3L318.4 411.2L314.5 411.1L310.5 411.0L306.6 411.0L302.6 410.9L298.7 410.8L294.7 410.8L290.8 410.8L286.8 410.7L282.8 410.7L278.8 410.6L274.8 410.6L270.8 410.6L266.8 410.6L262.8 410.5L258.7 410.5L254.6 410.5L250.6 410.5L246.5 410.5L242.3 410.5L238.2 410.5L234.1 410.5L229.9 410.5Z" fill="#1aae1a" fill-opacity="0.4" stroke="none"/>
<path d="M229.9 365.3L233.9 365.2L237.9 365.1L241.9 365.0L245.9 364.9L249.9 364.8L253.9 364.8L257.9 364.7L261.9 364.7L265.9 364.7L269.9 364.7L273.9 364.7L278.0 364.8L282.0 364.8L286.0 364.9L290.1 365.0L294.1 365.1L298.1 365.3L302.2 365.4L306.2 365.6L310.2 365.8L314.3 366.0L318.3 366.2L322.4 366.5L326.4 366.7L330.4 367.0L334.5 367.3L338.5 367.7L342.6 368.0L346.6 368.4L350.6 368.8L354.6 369.2L358.7 369.7L362.7 370.2L366.7 370.7L370.7 371.2L374.8 371.7L378.8 372.3L382.8 372.9L386.8 373.5L390.8 374.1L394.8 374.8L398.8 375.5L402.7 376.2L406.7 376.9L410.7 377.7L414.6 378.5L418.6 379.3L422.6 380.2L426.5 381.1L430.4 382.0L434.4 382.9L438.3 383.9L442.2 384.9L446.1 385.9L450.0 386.9L453.9 388.0L457.8 389.1L461.6 390.3L465.5 391.4L469.4 392.6L473.2 393.9L477.0 395.1L480.9 396.4L484.7 397.8L488.5 399.1L492.2 400.5L496.0 401.9L499.8 403.4L503.5 404.9L507.3 406.4L511.0 407.9L514.7 409.5L518.4 411.1L522.1 412.8L525.8 414.4L529.4 416.1L533.1 417.9L536.7 419.6L540.3 421.4L543.9 423.2L547.5 425.1L551.0 427.0L554.6 428.9L558.1 430.8L561.7 432.8L565.2 434.8L568.6 436.8L572.1 438.9L575.6 440.9L579.0 443.0L582.4 445.2L585.8 447.3L589.2 449.5L592.5 451.8L595.9 454.0L599.2 456.3L602.5 458.6L605.8 460.9L609.1 463.3L612.3 465.6L615.5 468.0L618.7 470.5L621.9 472.9L625.1 475.4L628.2 477.9L631.3 480.5L634.4 483.0L637.5 485.6L640.5 488.3L643.5 490.9L646.5 493.6L649.5 496.3L652.5 499.0L655.4 501.7L658.3 504.5L661.2 507.3L664.1 510.1L666.9 512.9L669.7 515.8L672.5 518.7L675.2 521.6L678.0 524.5L680.7 527.5L683.3 530.4L686.0 533.4L688.6 536.5L691.2 539.5L693.8 542.6L696.4 545.6L698.9 548.7L701.5 551.9L704.0 555.0L706.4 558.2L708.9 561.3L711.3 564.5L713.8 567.7L716.2 571.0L718.5 574.2L720.9 577.5L723.3 580.7L725.6 584.0L727.9 587.3L730.2 590.6L732.5 594.0L734.8 597.3L737.0 600.6L739.3 604.0L741.5 607.4L743.7 610.8L745.9 614.2L748.1 617.6L750.3 621.0L752.4 624.4L754.6 627.8L756.8 631.3L758.9 634.7L761.0 638.2L763.1 641.7L765.3 645.1L767.4 648.6L769.5 652.1L771.5 655.6L773.6 659.0L775.7 662.5L777.8 666.0L779.8 669.5L781.9 673.0L784.0 676.5L786.0 680.0L788.1 683.5L790.1 687.0L792.2 690.6L794.2 694.1L796.2 697.6L798.3 701.1L800.3 704.6L802.4 708.1L804.4 711.6L806.5 715.1L808.5 718.6L810.5 722.0L812.6 725.5L814.6 729.0L816.7 732.5L818.8 735.9L820.8 739.4L822.9 742.9L825.0 746.3L827.0 749.7L829.1 753.2L831.2 756.6L833.3 760.0L835.4 763.4L837.5 766.8L839.7 770.2L841.8 773.5L843.9 776.9L846.1 780.3L848.2 783.6L850.4 786.9L852.6 790.2L854.8 793.5L857.0 796.8L865.0 801.3L883.3 799.6L888.7 793.5L889.6 789.6L890.5 785.7L891.3 781.8L892.2 777.8L893.0 773.9L893.8 770.0L894.6 766.1L895.4 762.1L896.2 758.2L897.0 754.3L897.7 750.3L898.5 746.4L899.2 742.5L899.9 738.5L900.6 734.6L901.3 730.6L902.0 726.7L902.7 722.7L903.3 718.8L904.0 714.8L904.6 710.9L905.2 706.9L905.9 703.0L906.5 699.0L907.1 695.0L907.6 691.1L908.2 687.1L908.8 683.1L909.3 679.2L909.9 675.2L910.4 671.2L911.0 667.2L911.5 663.3L912.0 659.3L912.5 655.3L913.0 651.3L913.5 647.4L913.9 643.4L914.4 639.4L914.9 635.4L915.3 631.4L915.8 627.4L916.2 623.4L916.6 619.4L917.0 615.5L917.5 611.5L917.9 607.5L918.3 603.5L918.7 599.5L919.0 595.5L919.4 591.5L919.8 587.5L920.1 583.5L920.5 579.5L920.9 575.5L921.2 571.5L921.5 567.5L921.9 563.5L922.2 559.4L922.5 555.4L922.8 551.4L923.2 547.4L923.5 543.4L923.8 539.4L924.1 535.4L924.4 531.4L924.7 527.4L924.9 523.3L925.2 519.3L925.5 515.3L925.8 511.3L926.0 507.3L926.3 503.3L926.6 499.2L926.8 495.2L927.1 491.2L927.3 487.2L927.6 483.2L927.8 479.1L928.1 475.1L928.3 471.1L928.5 467.1L928.8 463.0L929.0 459.0L929.2 455.0L929.5 451.0L929.7 447.0L929.9 442.9L930.1 438.9L930.4 434.9L930.6 430.9L930.8 426.8L931.0 422.8L931.2 418.8L931.5 414.8L931.7 410.7L931.9 406.7L932.1 402.7L932.3 398.7L932.5 394.6L932.8 390.6L933.0 386.6L933.2 382.6L933.4 378.5L933.6 374.5L933.9 370.5L934.1 366.5L934.3 362.5L934.5 358.4L934.8 354.4L935.0 350.4L935.2 346.4L935.4 342.3L935.7 338.3L935.9 334.3L936.1 330.3L936.4 326.3L936.6 322.2L936.9 318.2L937.1 314.2L937.3 310.2L937.6 306.2L937.8 302.2L938.1 298.1L938.3 294.1L938.6 290.1L938.8 286.1L939.1 282.1L939.3 278.1L939.6 274.0L939.8 270.0L940.1 266.0L940.3 262.0L940.6 258.0L940.9 254.0L941.1 250.0L941.4 245.9L941.6 241.9L941.9 237.9L942.2 233.9L942.4 229.9L942.7 225.9L943.0 221.9L943.2 217.8L943.5 213.8L943.8 209.8L944.0 205.8L944.3 201.8L944.6 197.8L944.8 193.8L945.1 189.8L945.4 185.7L945.6 181.7L945.9 177.7L946.2 173.7L946.4 169.7L946.7 165.7L947.0 161.7L947.3 157.7L947.5 153.7L947.8 149.6L948.1 145.6L948.3 141.6L948.6 137.6L948.9 133.6L949.2 129.6L949.4 125.6L949.7 121.6L950.0 117.5L950.2 113.5L950.5 109.5L950.8 105.5L951.1 101.5L951.3 97.5L951.6 93.5L951.9 89.5L952.1 85.5L952.4 81.4L952.7 77.4L952.9 73.4L953.2 69.4L953.5 65.4L953.7 61.4L954.0 57.4L954.3 53.4L954.5 49.3L954.8 45.3L955.0 41.3L955.3 37.3L955.6 33.3L955.8 29.3L956.1 25.3L956.3 21.2L956.6 17.2L956.8 13.2L957.1 9.2L957.3 5.2L957.6 1.2L957.8 -2.9L958.1 -6.9L958.3 -10.9L958.6 -14.9L958.8 -18.9L959.1 -22.9L959.3 -27.0L959.6 -31.0L959.8 -35.0" fill="none" stroke="#ff0000" stroke-width="5" stroke-linejoin="round"/>
<path d="M1085.0 -35.0L1085.6 -31.0L1086.2 -26.9L1086.8 -22.9L1087.4 -18.9L1088.1 -14.9L1088.8 -11.0L1089.5 -7.0L1090.2 -3.0L1090.9 0.9L1091.7 4.9L1092.4 8.8L1093.2 12.8L1094.0 16.7L1094.8 20.6L1095.7 24.5L1096.5 28.5L1097.4 32.4L1098.3 36.3L1099.2 40.1L1100.1 44.0L1101.0 47.9L1102.0 51.8L1102.9 55.7L1103.9 59.5L1104.9 63.4L1105.9 67.2L1106.9 71.1L1108.0 74.9L1109.0 78.8L1110.1 82.6L1111.1 86.5L1112.2 90.3L1113.3 94.1L1114.4 98.0L1115.5 101.8L1116.7 105.6L1117.8 109.4L1118.9 113.3L1120.1 117.1L1121.3 120.9L1122.5 124.7L1123.6 128.5L1124.9 132.4L1126.1 136.2L1127.3 140.0L1128.5 143.8L1129.7 147.6L1131.0 151.5L1132.2 155.3L1133.5 159.1L1134.8 162.9L1136.0 166.8L1137.3 170.6L1138.6 174.4L1139.9 178.3L1141.2 182.1L1142.5 185.9L1143.8 189.8L1145.2 193.6L1146.5 197.4L1147.9 201.2L1149.3 205.1L1150.7 208.9L1152.1 212.7L1153.5 216.5L1155.0 220.3L1156.4 224.1L1157.9 227.8L1159.5 231.6L1161.0 235.3L1162.6 239.1L1164.2 242.8L1165.8 246.5L1167.5 250.2L1169.2 253.8L1170.9 257.5L1172.7 261.1L1174.5 264.7L1176.3 268.3L1178.2 271.9L1180.1 275.4L1182.0 278.9L1184.0 282.4L1186.0 285.9L1188.1 289.3L1190.2 292.7L1192.4 296.1L1194.6 299.5L1196.9 302.8L1199.2 306.0L1201.6 309.3L1204.0 312.5L1206.4 315.7L1208.9 318.8L1211.4 321.9L1214.0 324.9L1216.6 328.0L1219.3 330.9L1222.0 333.8L1224.8 336.7L1227.6 339.5L1230.4 342.3L1233.3 345.0L1236.3 347.7L1239.3 350.3L1242.3 352.9L1245.4 355.4L1248.5 357.8L1251.6 360.2L1254.8 362.6L1258.1 364.8L1261.3 367.0L1264.7 369.2L1268.0 371.3L1271.4 373.3L1274.9 375.2L1278.4 377.1L1281.9 379.0L1285.4 380.8L1289.0 382.5L1292.6 384.2L1296.3 385.8L1299.9 387.4L1303.6 388.9L1307.4 390.4L1311.1 391.8L1314.9 393.2L1318.7 394.6L1322.5 395.9L1326.3 397.2L1330.2 398.5L1334.0 399.7L1337.9 400.9L1341.8 402.0L1345.7 403.2L1349.6 404.3L1353.5 405.3L1357.4 406.4L1361.3 407.4L1365.2 408.5L1369.2 409.5L1373.1 410.4L1377.0 411.4L1381.0 412.3L1384.9 413.3L1388.8 414.2L1392.8 415.1L1396.7 415.9L1400.6 416.8L1404.6 417.7L1408.5 418.5L1412.5 419.3L1416.4 420.1L1420.4 420.9L1424.3 421.7L1428.3 422.4L1432.2 423.2L1436.2 423.9L1440.1 424.6L1444.1 425.3L1448.0 426.0L1452.0 426.7L1456.0 427.3L1459.9 428.0L1463.9 428.6L1467.9 429.3L1471.8 429.9L1475.8 430.5L1479.8 431.1L1483.7 431.7L1487.7 432.2L1491.7 432.8L1495.7 433.4L1499.6 433.9L1503.6 434.5L1507.6 435.0L1511.6 435.5L1515.5 436.0L1519.5 436.5L1523.5 437.0L1527.5 437.5L1531.5 438.0L1535.4 438.5L1539.4 439.0L1543.4 439.4L1547.4 439.9L1551.4 440.3L1555.4 440.8L1559.3 441.2L1563.3 441.7L1567.3 442.1L1571.3 442.5L1575.3 443.0L1579.3 443.4L1583.3 443.8L1587.3 444.2L1591.3 444.6L1595.2 445.0L1599.2 445.4L1603.2 445.8L1607.2 446.2L1611.2 446.6L1615.2 447.0L1619.2 447.4L1623.2 447.8L1627.2 448.2L1631.2 448.6L1635.2 449.0L1639.2 449.4L1643.1 449.8L1647.1 450.2L1651.1 450.6L1655.1 451.0L1659.1 451.4L1663.1 451.8L1667.1 452.2L1671.1 452.7L1675.1 453.1L1679.1 453.5L1683.1 453.9L1687.1 454.3L1691.0 454.7L1695.0 455.2L1699.0 455.6L1703.0 456.1L1707.0 456.5L1711.0 457.0L1715.0 457.4L1719.0 457.9L1722.9 458.3L1726.9 458.8L1730.9 459.3L1734.9 459.8L1738.9 460.3L1742.9 460.8L1746.8 461.3L1750.8 461.8L1754.8 462.3L1758.8 462.9L1762.8 463.4L1766.7 464.0L1770.7 464.5L1774.7 465.1L1778.7 465.7L1782.6 466.3L1786.6 466.9L1790.6 467.5L1794.5 468.1L1798.5 468.7L1802.5 469.4L1806.4 470.0L1810.4 470.7L1814.4 471.3L1818.3 472.0L1822.3 472.7L1826.3 473.3L1830.2 474.0L1834.2 474.7L1838.2 475.3L1842.1 476.0L1846.1 476.6L1850.0 477.3L1854.0 477.9L1858.0 478.6L1861.9 479.2L1865.9 479.8L1869.9 480.4L1873.8 481.0L1877.8 481.6L1881.8 482.1L1885.7 482.7L1889.7 483.2L1893.7 483.7L1897.6 484.2L1901.6 484.7L1905.6 485.1L1909.6 485.5L1913.5 485.9L1917.5 486.3L1921.5 486.7L1925.5 487.0L1929.5 487.3L1933.5 487.5L1937.5 487.8L1941.4 488.0L1945.4 488.2L1949.4 488.3L1953.4 488.4L1957.4 488.4L1961.4 488.5L1965.4 488.5L1969.5 488.4L1973.5 488.3L1977.5 488.2L1981.5 488.1L1985.5 487.9L1989.5 487.7L1993.6 487.4L1997.6 487.2L2001.6 486.9L2005.6 486.7L2009.7 486.4L2013.7 486.1L2017.7 485.7L2021.7 485.4L2025.8 485.1L2029.8 484.8L2033.8 484.5L2037.8 484.1L2041.9 483.8L2045.9 483.5L2049.9 483.2L2053.9 483.0L2057.9 482.7L2062.0 482.5L2066.0 482.2L2070.0 482.0L2074.0 481.9L2078.0 481.7L2082.0 481.6L2086.0 481.5L2090.0 481.5" fill="none" stroke="#ff0000" stroke-width="5" stroke-linejoin="round"/>
<path d="M229.9 410.5L233.9 410.6L238.0 410.6L242.0 410.6L246.0 410.7L250.0 410.7L254.0 410.7L258.1 410.7L262.1 410.7L266.1 410.8L270.1 410.8L274.1 410.8L278.1 410.8L282.1 410.8L286.1 410.8L290.1 410.8L294.1 410.8L298.1 410.8L302.1 410.8L306.1 410.8L310.1 410.9L314.1 410.9L318.1 410.9L322.1 411.0L326.1 411.0L330.1 411.1L334.1 411.1L338.1 411.2L342.1 411.3L346.1 411.3L350.1 411.4L354.1 411.6L358.1 411.7L362.1 411.8L366.1 412.0L370.1 412.1L374.1 412.3L378.1 412.5L382.1 412.7L386.1 412.9L390.1 413.2L394.1 413.4L398.1 413.7L402.1 414.0L406.1 414.3L410.1 414.6L414.1 415.0L418.1 415.4L422.1 415.8L426.1 416.2L430.1 416.7L434.1 417.1L438.1 417.6L442.1 418.2L446.1 418.7L450.1 419.3L454.1 420.0L458.0 420.6L462.0 421.3L465.9 422.1L469.9 422.8L473.8 423.7L477.8 424.5L481.7 425.4L485.6 426.3L489.5 427.3L493.3 428.4L497.2 429.4L501.0 430.6L504.8 431.7L508.6 433.0L512.4 434.2L516.2 435.6L519.9 436.9L523.6 438.4L527.3 439.9L531.0 441.4L534.6 443.0L538.3 444.7L541.9 446.5L545.4 448.3L549.0 450.1L552.5 452.1L556.0 454.0L559.4 456.1L562.8 458.2L566.2 460.4L569.5 462.7L572.8 465.0L576.1 467.4L579.3 469.8L582.4 472.3L585.5 474.8L588.6 477.5L591.6 480.1L594.5 482.9L597.4 485.6L600.3 488.5L603.0 491.4L605.7 494.4L608.4 497.4L610.9 500.4L613.4 503.6L615.8 506.7L618.2 510.0L620.5 513.3L622.7 516.6L624.9 519.9L627.1 523.3L629.2 526.7L631.3 530.1L633.3 533.6L635.4 537.0L637.4 540.5L639.4 543.9L641.4 547.4L643.4 550.9L645.3 554.4L647.3 557.9L649.2 561.4L651.1 564.9L653.0 568.5L654.9 572.0L656.7 575.6L658.6 579.1L660.4 582.7L662.2 586.3L664.0 589.9L665.8 593.5L667.6 597.1L669.3 600.7L671.0 604.3L672.8 607.9L674.5 611.6L676.2 615.2L677.9 618.8L679.5 622.5L681.2 626.1L682.8 629.8L684.5 633.5L686.1 637.1L687.7 640.8L689.3 644.5L690.9 648.2L692.5 651.9L694.0 655.6L695.6 659.3L697.1 663.0L698.6 666.7L700.2 670.4L701.7 674.1L703.2 677.8L704.7 681.5L706.2 685.3L707.6 689.0L709.1 692.7L710.6 696.4L712.0 700.2L713.5 703.9L714.9 707.6L716.3 711.4L717.8 715.1L719.2 718.9L720.6 722.6L722.0 726.4L723.4 730.1L724.8 733.9L726.2 737.6L727.5 741.4L728.9 745.1L730.3 748.9L731.6 752.7L733.0 756.4L734.3 760.2L735.7 763.9L737.0 767.7L738.4 771.5L739.7 775.3L741.0 779.0L742.4 782.8L743.7 786.6L745.0 790.4L746.3 794.1L747.7 797.9L749.0 801.7L750.3 805.5L751.6 809.2L752.9 813.0L754.2 816.8L755.5 820.6L756.9 824.4L758.2 828.2L759.5 831.9L760.8 835.7L762.1 839.5L763.4 843.3L764.7 847.1L766.0 850.9L767.3 854.6L768.6 858.4L770.0 862.2L771.3 866.0L772.6 869.8L773.9 873.5L775.2 877.3L776.6 881.1L777.9 884.9L779.2 888.7L780.6 892.4L781.9 896.2L783.2 900.0L784.6 903.8L785.9 907.5L787.3 911.3L788.6 915.1L790.0 918.9L791.4 922.6L792.7 926.4L794.1 930.2L795.5 933.9L796.9 937.7L798.3 941.4L799.7 945.2L801.1 949.0L802.5 952.7L804.0 956.5L805.4 960.2L806.8 964.0L808.3 967.7L809.7 971.5L811.2 975.2L812.7 978.9L814.1 982.7L815.6 986.4L817.1 990.1L818.6 993.9L820.1 997.6L821.7 1001.3L823.2 1005.0L824.8 1008.7L826.3 1012.5L827.9 1016.2L829.5 1019.9L831.1 1023.6L832.7 1027.3L834.3 1031.0L835.9 1034.6L837.6 1038.3L839.3 1042.0L841.0 1045.6L842.7 1049.2L844.5 1052.8L846.3 1056.4L848.1 1060.0L849.9 1063.5L851.8 1067.1L853.8 1070.6L855.7 1074.0L857.7 1077.5L859.8 1080.9L861.9 1084.3L864.0 1087.7L866.2 1091.0L868.4 1094.3L870.7 1097.5L873.0 1100.7L875.4 1103.9L877.9 1107.0L880.4 1110.1L882.9 1113.2L885.6 1116.2L888.3 1119.1L891.0 1122.0L893.8 1124.9L896.7 1127.7L899.7 1130.5L902.7 1133.2L905.8 1135.8L908.9 1138.4L912.1 1140.8L915.4 1143.2L918.7 1145.6L922.1 1147.8L925.5 1150.0L929.0 1152.0L932.5 1154.0L936.1 1155.8L939.7 1157.6L943.3 1159.2L947.0 1160.7L950.7 1162.1L954.5 1163.4L958.3 1164.5L962.1 1165.5L965.9 1166.3L969.8 1167.1L973.7 1167.7L977.7 1168.2L981.6 1168.6L985.6 1168.8L989.6 1169.0L993.6 1169.0L997.6 1169.0L1001.6 1168.9L1005.6 1168.7L1009.6 1168.4L1013.7 1168.0L1017.7 1167.6L1021.7 1167.1L1025.8 1166.6L1029.8 1166.0L1033.8 1165.3L1037.8 1164.6L1041.8 1163.9L1045.8 1163.1L1049.7 1162.3L1053.7 1161.5L1057.6 1160.7L1061.5 1159.8L1065.4 1158.9L1069.3 1157.9L1073.2 1157.0L1077.0 1156.0L1080.9 1155.0L1084.7 1154.0L1088.6 1152.9L1092.4 1151.9L1096.2 1150.8L1100.0 1149.7L1103.9 1148.6L1107.7 1147.4L1111.5 1146.3L1115.3 1145.1L1119.1 1143.9L1122.8 1142.7L1126.6 1141.5L1130.4 1140.3L1134.2 1139.0L1138.0 1137.8L1141.8 1136.5L1145.6 1135.2L1149.3 1133.9L1153.1 1132.6L1156.9 1131.3L1160.6 1130.0L1164.4 1128.6L1168.2 1127.3L1171.9 1125.9L1175.7 1124.5L1179.5 1123.1L1183.2 1121.8L1187.0 1120.3L1190.7 1118.9L1194.5 1117.5L1198.2 1116.1L1202.0 1114.6L1205.7 1113.2L1209.5 1111.7L1213.2 1110.2L1217.0 1108.8L1220.7 1107.3L1224.4 1105.8L1228.2 1104.3L1231.9 1102.7L1235.6 1101.2L1239.3 1099.7L1243.1 1098.2L1246.8 1096.6L1250.5 1095.1L1254.2 1093.5L1257.9 1092.0L1261.6 1090.4L1265.3 1088.8L1269.1 1087.2L1272.8 1085.6L1276.5 1084.1L1280.2 1082.5L1283.9 1080.9L1287.6 1079.3L1291.2 1077.6L1294.9 1076.0L1298.6 1074.4L1302.3 1072.8L1306.0 1071.2L1309.7 1069.5L1313.3 1067.9L1317.0 1066.3L1320.7 1064.6L1324.4 1063.0L1328.0 1061.3L1331.7 1059.7L1335.4 1058.1L1339.0 1056.4L1342.7 1054.8L1346.3 1053.1L1350.0 1051.5L1353.6 1049.8L1357.3 1048.1L1360.9 1046.5L1364.6 1044.8L1368.2 1043.2L1371.9 1041.5L1375.5 1039.9L1379.1 1038.2L1382.8 1036.6L1386.4 1034.9L1390.0 1033.3L1393.6 1031.6L1397.3 1030.0L1400.9 1028.3L1404.5 1026.7L1408.1 1025.0L1411.7 1023.4L1415.3 1021.8L1418.9 1020.1L1422.5 1018.5L1426.2 1016.9L1429.8 1015.2L1433.4 1013.6L1437.0 1012.0L1440.6 1010.3L1444.2 1008.7L1447.8 1007.1L1451.4 1005.4L1455.0 1003.8L1458.6 1002.2L1462.2 1000.5L1465.9 998.9L1469.5 997.3L1473.1 995.6L1476.7 994.0L1480.4 992.3L1484.0 990.7L1487.7 989.0L1491.3 987.4L1495.0 985.7L1498.7 984.0L1502.4 982.4L1506.0 980.7L1509.7 979.0L1513.4 977.3L1517.2 975.6L1520.9 973.9L1524.6 972.2L1528.4 970.5L1532.1 968.8L1535.9 967.0L1539.6 965.3L1543.4 963.6L1547.2 961.9L1551.0 960.2L1554.8 958.5L1558.7 956.9L1562.5 955.3L1566.3 953.7L1570.1 952.2L1574.0 950.8L1577.8 949.5L1581.7 948.2L1585.5 947.0L1589.3 946.0L1593.2 945.0L1597.0 944.1L1600.8 943.4L1604.7 942.8L1608.5 942.3L1612.3 941.9L1616.1 941.7L1620.0 941.7L1623.8 941.9L1627.6 942.2L1631.3 942.7L1635.1 943.3L1638.9 944.2L1642.6 945.3L1646.2 946.6L1649.8 948.0L1653.3 949.7L1656.7 951.6L1660.0 953.8L1663.1 956.1L1666.2 958.6L1669.1 961.3L1671.8 964.2L1674.5 967.2L1677.1 970.3L1679.7 973.5L1682.1 976.8L1684.5 980.2L1686.9 983.6L1689.2 987.1L1691.4 990.6L1693.7 994.0L1695.9 997.4L1698.1 1000.9L1700.3 1004.3L1702.5 1007.7L1704.7 1011.1L1706.9 1014.4L1709.0 1017.8L1711.2 1021.2L1713.3 1024.5L1715.4 1027.9L1717.6 1031.2L1719.7 1034.6L1721.8 1037.9L1723.9 1041.3L1726.1 1044.6L1728.2 1047.9L1730.3 1051.3L1732.5 1054.6L1734.6 1058.0L1736.8 1061.3L1739.0 1064.7L1741.1 1068.1L1743.3 1071.5L1745.5 1074.9L1747.8 1078.3L1750.0 1081.7L1752.4 1085.0L1754.7 1088.4L1757.0 1091.7L1759.3 1095.1L1761.5 1098.5L1763.6 1101.9L1765.8 1105.2L1767.9 1108.6L1770.1 1112.0L1772.2 1115.4L1774.4 1118.8L1776.5 1122.2L1778.7 1125.6L1780.9 1128.9L1783.2 1132.3L1785.5 1135.7L1787.9 1139.0L1790.3 1142.4L1792.8 1145.6L1795.4 1148.8L1798.1 1151.8L1800.9 1154.7L1803.9 1157.4L1807.0 1159.9L1810.3 1162.1L1813.8 1164.1L1817.5 1165.8L1821.3 1167.1L1825.3 1168.1L1829.3 1168.7L1833.4 1168.9L1837.4 1168.8L1841.4 1168.4L1845.4 1167.7L1849.4 1167.0L1853.4 1166.1L1857.3 1165.3L1861.3 1164.5L1865.3 1163.7L1869.2 1162.9L1873.2 1162.1L1877.2 1161.4L1881.2 1160.8L1885.2 1160.2L1889.2 1159.8L1893.2 1159.4L1897.3 1159.2L1901.4 1159.1L1905.4 1159.2L1909.4 1159.6L1913.4 1160.2L1917.4 1161.1L1921.3 1162.2L1925.1 1163.4L1929.0 1164.6L1932.9 1165.7L1936.8 1166.7L1940.8 1167.5L1944.7 1168.2L1948.7 1168.6L1952.7 1169.0L1956.7 1169.2L1960.7 1169.3L1964.8 1169.3L1968.8 1169.2L1972.9 1169.0L1976.9 1168.8L1981.0 1168.6L1985.0 1168.3L1989.1 1168.0L1993.1 1167.7L1997.2 1167.4L2001.2 1167.1L2005.2 1166.8L2009.3 1166.5L2013.3 1166.2L2017.4 1165.9L2021.4 1165.6L2025.4 1165.3L2029.5 1165.0L2033.5 1164.7L2037.5 1164.5L2041.5 1164.3L2045.6 1164.1L2049.6 1163.9L2053.6 1163.8L2057.7 1163.7L2061.7 1163.6L2065.7 1163.6L2069.8 1163.6L2073.8 1163.6L2077.9 1163.7L2081.9 1163.9L2086.0 1164.1L2090.0 1164.3" fill="none" stroke="#0a73f0" stroke-width="5" stroke-linejoin="round"/>
<path d="M229.9 406.5L234.1 406.5L238.2 406.5L242.3 406.5L246.5 406.5L250.6 406.5L254.6 406.5L258.7 406.5L262.8 406.5L266.8 406.6L270.8 406.6L274.9 406.6L278.9 406.6L282.9 406.7L286.8 406.7L290.8 406.8L294.8 406.8L298.8 406.9L302.7 406.9L306.7 407.0L310.6 407.0L314.5 407.1L318.5 407.2L322.4 407.3L326.3 407.4L330.2 407.4L334.2 407.5L338.1 407.7L342.0 407.8L345.9 407.9L349.8 408.0L353.8 408.1L357.7 408.3L361.6 408.4L365.5 408.6L369.5 408.8L373.4 408.9L377.4 409.1L381.3 409.3L385.3 409.5L389.3 409.7L393.3 409.9L397.2 410.1L401.2 410.4L405.3 410.6L409.3 410.8L413.3 411.1L417.4 411.4L421.4 411.6L425.5 411.9L429.6 412.2L433.7 412.6L437.8 412.9L441.9 413.3L446.0 413.6L450.1 414.0L454.2 414.5L458.3 414.9L462.4 415.4L466.5 415.9L470.5 416.4L474.6 417.0L478.7 417.6L482.7 418.3L486.8 418.9L490.8 419.6L494.9 420.4L498.9 421.2L502.8 422.0L506.8 422.9L510.8 423.8L514.7 424.8L518.6 425.8L522.4 426.9L526.3 428.0L530.1 429.2L533.9 430.5L537.7 431.8L541.4 433.1L545.1 434.5L548.7 436.0L552.3 437.6L555.9 439.2L559.5 440.8L563.0 442.6L566.4 444.4L569.8 446.3L573.2 448.3L576.5 450.3L579.8 452.4L583.0 454.6L586.1 456.9L589.2 459.2L592.3 461.6L595.3 464.1L598.3 466.7L601.2 469.3L604.1 472.0L606.9 474.8L609.6 477.6L612.4 480.5L615.0 483.4L617.7 486.4L620.3 489.5L622.8 492.6L625.3 495.7L627.7 498.9L630.1 502.1L632.5 505.4L634.8 508.7L637.1 512.1L639.4 515.5L641.6 518.9L643.7 522.4L645.8 525.9L647.9 529.4L649.9 533.0L651.9 536.5L653.9 540.1L655.8 543.7L657.7 547.4L659.6 551.0L661.4 554.7L663.2 558.3L664.9 562.0L666.6 565.7L668.3 569.4L669.9 573.1L671.6 576.8L673.1 580.5L674.7 584.2L676.2 588.0L677.7 591.7L679.2 595.5L680.6 599.2L682.0 603.0L683.4 606.7L684.8 610.5L686.1 614.2L687.4 618.0L688.7 621.8L690.0 625.6L691.3 629.4L692.5 633.2L693.7 637.0L694.9 640.8L696.1 644.6L697.3 648.4L698.4 652.2L699.6 656.0L700.7 659.8L701.8 663.7L702.9 667.5L704.0 671.3L705.1 675.2L706.2 679.0L707.2 682.8L708.3 686.7L709.4 690.5L710.4 694.4L711.4 698.2L712.5 702.0L713.5 705.9L714.6 709.7L715.6 713.6L716.6 717.4L717.7 721.3L718.7 725.1L719.8 729.0L720.8 732.8L721.8 736.7L722.9 740.6L724.0 744.4L725.0 748.3L726.1 752.1L727.2 755.9L728.3 759.8L729.4 763.6L730.5 767.5L731.6 771.3L732.7 775.2L733.9 779.0L735.0 782.8L736.2 786.7L737.4 790.5L738.5 794.4L739.7 798.2L740.9 802.0L742.1 805.9L743.3 809.7L744.5 813.5L745.8 817.4L747.0 821.2L748.2 825.0L749.4 828.8L750.7 832.7L751.9 836.5L753.1 840.3L754.3 844.2L755.6 848.0L756.8 851.8L758.0 855.7L759.3 859.5L760.5 863.3L761.7 867.2L762.9 871.0L764.1 874.8L765.4 878.7L766.6 882.5L767.8 886.3L769.0 890.2L770.1 894.0L771.3 897.9L772.5 901.7L773.7 905.6L774.8 909.4L776.0 913.3L777.1 917.1L778.2 921.0L779.3 924.8L780.4 928.7L781.5 932.6L782.6 936.4L783.7 940.3L784.8 944.1L785.8 948.0L786.9 951.9L788.0 955.7L789.0 959.6L790.1 963.4L791.2 967.3L792.3 971.1L793.4 974.9L794.5 978.8L795.6 982.6L796.8 986.4L797.9 990.2L799.1 994.0L800.2 997.8L801.4 1001.6L802.7 1005.4L803.9 1009.2L805.1 1012.9L806.4 1016.7L807.7 1020.4L809.0 1024.2L810.3 1027.9L811.7 1031.7L813.1 1035.4L814.5 1039.1L815.9 1042.8L817.3 1046.6L818.8 1050.3L820.3 1054.0L821.8 1057.7L823.4 1061.4L825.0 1065.1L826.6 1068.9L828.2 1072.6L829.9 1076.3L831.6 1080.0L833.3 1083.7L835.0 1087.5L836.8 1091.2L838.6 1094.9L840.5 1098.6L842.4 1102.3L844.3 1106.0L846.3 1109.7L848.3 1113.3L850.4 1116.9L852.5 1120.4L854.7 1123.9L857.0 1127.3L859.4 1130.6L861.8 1133.8L864.3 1136.8L866.9 1139.8L869.7 1142.6L872.5 1145.3L875.4 1147.9L878.4 1150.3L881.5 1152.5L884.8 1154.6L888.1 1156.5L891.5 1158.2L895.0 1159.8L898.6 1161.3L902.3 1162.6L906.0 1163.8L909.8 1164.8L913.6 1165.7L917.5 1166.4L921.4 1167.0L925.4 1167.5L929.4 1167.9L933.4 1168.1L937.4 1168.2L941.4 1168.1L945.5 1168.0L949.5 1167.7L953.5 1167.4L957.6 1166.9L961.6 1166.3L965.5 1165.6L969.5 1164.8L973.4 1163.8L977.3 1162.8L981.2 1161.8L985.0 1160.6L988.8 1159.3L992.7 1158.0L996.4 1156.6L1000.2 1155.1L1003.9 1153.6L1007.6 1151.9L1011.3 1150.3L1015.0 1148.6L1018.7 1146.8L1022.3 1145.0L1025.9 1143.2L1029.5 1141.3L1033.0 1139.4L1036.6 1137.4L1040.1 1135.5L1043.6 1133.5L1047.1 1131.5L1050.5 1129.5L1054.0 1127.4L1057.4 1125.4L1060.8 1123.4L1064.3 1121.3L1067.7 1119.2L1071.0 1117.2L1074.4 1115.1L1077.8 1113.0L1081.2 1110.9L1084.6 1108.9L1087.9 1106.8L1091.3 1104.7L1094.7 1102.6L1098.1 1100.6L1101.5 1098.5L1104.9 1096.4L1108.3 1094.4L1111.7 1092.3L1115.2 1090.3L1118.6 1088.3L1122.0 1086.2L1125.5 1084.2L1129.0 1082.2L1132.4 1080.2L1135.9 1078.2L1139.4 1076.2L1142.9 1074.2L1146.4 1072.2L1149.9 1070.2L1153.4 1068.3L1156.9 1066.3L1160.4 1064.3L1163.9 1062.4L1167.4 1060.5L1170.9 1058.5L1174.5 1056.6L1178.0 1054.6L1181.6 1052.7L1185.1 1050.8L1188.6 1048.9L1192.2 1047.0L1195.7 1045.1L1199.3 1043.2L1202.8 1041.3L1206.4 1039.5L1210.0 1037.6L1213.5 1035.7L1217.1 1033.9L1220.6 1032.0L1224.2 1030.2L1227.8 1028.3L1231.3 1026.5L1234.9 1024.6L1238.5 1022.8L1242.0 1021.0L1245.6 1019.2L1249.2 1017.4L1252.8 1015.6L1256.3 1013.7L1259.9 1012.0L1263.5 1010.2L1267.1 1008.4L1270.7 1006.6L1274.3 1004.8L1277.8 1003.0L1281.4 1001.3L1285.0 999.5L1288.6 997.7L1292.2 996.0L1295.8 994.2L1299.4 992.4L1303.0 990.7L1306.6 988.9L1310.2 987.2L1313.8 985.5L1317.4 983.7L1321.0 982.0L1324.6 980.3L1328.2 978.5L1331.8 976.8L1335.4 975.1L1339.1 973.3L1342.7 971.6L1346.3 969.9L1349.9 968.2L1353.5 966.5L1357.1 964.8L1360.7 963.1L1364.4 961.3L1368.0 959.6L1371.6 957.9L1375.2 956.2L1378.8 954.5L1382.5 952.8L1386.1 951.1L1389.7 949.4L1393.3 947.7L1397.0 946.0L1400.6 944.3L1404.2 942.6L1407.9 940.9L1411.5 939.2L1415.1 937.5L1418.8 935.9L1422.4 934.2L1426.0 932.5L1429.7 930.8L1433.3 929.1L1436.9 927.4L1440.6 925.7L1444.2 924.0L1447.8 922.3L1451.5 920.6L1455.1 918.9L1458.8 917.2L1462.4 915.5L1466.0 913.8L1469.7 912.1L1473.3 910.4L1476.9 908.6L1480.6 906.9L1484.2 905.2L1487.8 903.5L1491.5 901.8L1495.1 900.0L1498.7 898.3L1502.4 896.6L1506.0 894.8L1509.6 893.1L1513.2 891.3L1516.8 889.6L1520.4 887.8L1524.1 886.0L1527.7 884.3L1531.3 882.5L1534.9 880.7L1538.5 878.9L1542.0 877.1L1545.6 875.3L1549.2 873.5L1552.8 871.7L1556.4 869.8L1559.9 868.0L1563.5 866.2L1567.0 864.3L1570.6 862.5L1574.1 860.6L1577.7 858.7L1581.2 856.8L1584.7 854.9L1588.3 853.0L1591.8 851.1L1595.3 849.2L1598.8 847.2L1602.3 845.3L1605.8 843.3L1609.2 841.3L1612.7 839.4L1616.2 837.4L1619.6 835.4L1623.1 833.4L1626.5 831.3L1630.0 829.3L1633.4 827.2L1636.8 825.2L1640.2 823.1L1643.6 821.0L1647.0 818.9L1650.3 816.8L1653.7 814.6L1657.1 812.5L1660.4 810.3L1663.8 808.1L1667.1 805.9L1670.4 803.7L1673.7 801.5L1677.0 799.3L1680.3 797.1L1683.7 794.8L1687.0 792.6L1690.3 790.4L1693.6 788.2L1696.9 785.9L1700.2 783.7L1703.6 781.5L1706.9 779.3L1710.3 777.1L1713.7 775.0L1717.1 772.8L1720.5 770.7L1723.9 768.6L1727.3 766.5L1730.8 764.4L1734.3 762.4L1737.8 760.3L1741.3 758.3L1744.9 756.4L1748.5 754.5L1752.1 752.6L1755.8 750.7L1759.5 748.9L1763.2 747.1L1767.0 745.4L1770.8 743.8L1774.6 742.2L1778.4 740.7L1782.3 739.3L1786.2 737.9L1790.1 736.8L1794.0 735.7L1797.9 734.8L1801.8 734.0L1805.8 733.3L1809.7 732.9L1813.6 732.6L1817.6 732.5L1821.5 732.6L1825.3 732.9L1829.2 733.3L1833.0 734.0L1836.8 734.8L1840.5 735.8L1844.2 737.0L1847.8 738.4L1851.4 739.9L1854.8 741.7L1858.2 743.6L1861.5 745.7L1864.6 748.0L1867.7 750.5L1870.8 753.1L1873.7 755.8L1876.6 758.6L1879.4 761.6L1882.1 764.6L1884.8 767.6L1887.4 770.8L1890.0 773.9L1892.5 777.1L1894.9 780.3L1897.4 783.6L1899.7 786.8L1902.1 790.1L1904.3 793.4L1906.6 796.8L1908.8 800.1L1910.9 803.5L1913.0 806.9L1915.1 810.3L1917.2 813.8L1919.2 817.2L1921.1 820.7L1923.1 824.2L1925.0 827.7L1926.9 831.2L1928.7 834.7L1930.5 838.3L1932.3 841.9L1934.1 845.4L1935.8 849.0L1937.6 852.6L1939.3 856.3L1940.9 859.9L1942.6 863.5L1944.2 867.2L1945.9 870.9L1947.5 874.5L1949.1 878.2L1950.7 881.9L1952.2 885.6L1953.8 889.3L1955.3 893.0L1956.9 896.7L1958.4 900.4L1960.0 904.1L1961.5 907.9L1963.0 911.6L1964.5 915.3L1966.1 919.0L1967.6 922.8L1969.1 926.5L1970.7 930.2L1972.2 934.0L1973.7 937.7L1975.3 941.4L1976.8 945.1L1978.4 948.9L1980.0 952.6L1981.5 956.3L1983.1 960.0L1984.7 963.7L1986.3 967.4L1988.0 971.1L1989.6 974.8L1991.2 978.5L1992.9 982.1L1994.6 985.8L1996.2 989.4L1997.9 993.1L1999.7 996.7L2001.4 1000.3L2003.1 1003.9L2004.9 1007.5L2006.7 1011.1L2008.5 1014.7L2010.3 1018.3L2012.2 1021.8L2014.1 1025.3L2016.0 1028.9L2017.9 1032.4L2019.8 1035.9L2021.8 1039.3L2023.8 1042.8L2025.8 1046.2L2027.9 1049.6L2030.0 1053.0L2032.1 1056.4L2034.2 1059.8L2036.4 1063.1L2038.6 1066.4L2040.8 1069.7L2043.0 1073.0L2045.3 1076.2L2047.7 1079.5L2050.0 1082.7L2052.4 1085.8L2054.8 1089.0L2057.3 1092.1L2059.8 1095.2L2062.4 1098.3L2064.9 1101.4L2067.6 1104.4L2070.2 1107.4L2072.9 1110.3L2075.6 1113.3L2078.4 1116.2L2081.3 1119.1L2084.1 1121.9L2087.0 1124.7L2090.0 1127.5" fill="none" stroke="#1aae1a" stroke-width="5" stroke-linejoin="round"/>
</g>
<g stroke="#111111" stroke-width="2.2" fill="none">
<line x1="229.7" y1="0" x2="229.7" y2="1172.1"/>
<line x1="226.7" y1="1171.0" x2="2083.1" y2="1171.0"/>
<line x1="2081.6" y1="0" x2="2081.6" y2="1172.1" stroke-width="3.0"/>
<line x1="228.6" y1="1.5" x2="2083.1" y2="1.5" stroke-width="3.0"/>
</g>
<text font-family="'Liberation Sans', sans-serif" fill="#000" stroke="#000" stroke-width="1.0" stroke-linejoin="round" style="font-kerning:none"><tspan x="115.60" y="196.00" font-size="76.8">0.3</tspan></text>
<text font-family="'Liberation Sans', sans-serif" fill="#000" stroke="#000" stroke-width="1.0" stroke-linejoin="round" style="font-kerning:none"><tspan x="114.60" y="529.70" font-size="76.8">0.2</tspan></text>
<mask id="t1" maskUnits="userSpaceOnUse" x="0" y="0" width="2084" height="1326"><rect width="2084" height="1326" fill="#fff"/><g fill="#000"><rect x="198.50" y="856.76" width="14.26" height="9.74"/><rect x="220.55" y="856.76" width="13.66" height="9.74"/></g></mask><text font-family="'Liberation Sans', sans-serif" fill="#000" stroke="#000" stroke-width="1.0" stroke-linejoin="round" mask="url(#t1)" style="font-kerning:none"><tspan x="126.30" y="864.50" font-size="76.8">0.</tspan><tspan x="193.95" y="864.50" font-size="76.8">1</tspan></text>
<text font-family="'Liberation Sans', sans-serif" fill="#000" stroke="#000" stroke-width="1.0" stroke-linejoin="round" style="font-kerning:none"><tspan x="178.80" y="1198.20" font-size="76.8">0</tspan></text>
<text font-family="'Liberation Sans', sans-serif" fill="#000" stroke="#000" stroke-width="1.0" stroke-linejoin="round" style="font-kerning:none"><tspan x="208.70" y="1242.40" font-size="76.8">0</tspan></text>
<mask id="t2" maskUnits="userSpaceOnUse" x="0" y="0" width="2084" height="1326"><rect width="2084" height="1326" fill="#fff"/><g fill="#000"><rect x="592.55" y="1234.66" width="14.26" height="9.74"/><rect x="614.60" y="1234.66" width="13.66" height="9.74"/></g></mask><text font-family="'Liberation Sans', sans-serif" fill="#000" stroke="#000" stroke-width="1.0" stroke-linejoin="round" mask="url(#t2)" style="font-kerning:none"><tspan x="588.00" y="1242.40" font-size="76.8">1</tspan></text>
<text font-family="'Liberation Sans', sans-serif" fill="#000" stroke="#000" stroke-width="1.0" stroke-linejoin="round" style="font-kerning:none"><tspan x="955.60" y="1242.40" font-size="76.8">2</tspan></text>
<text font-family="'Liberation Sans', sans-serif" fill="#000" stroke="#000" stroke-width="1.0" stroke-linejoin="round" style="font-kerning:none"><tspan x="1330.00" y="1242.40" font-size="76.8">3</tspan></text>
<text font-family="'Liberation Sans', sans-serif" fill="#000" stroke="#000" stroke-width="1.0" stroke-linejoin="round" style="font-kerning:none"><tspan x="1702.50" y="1242.40" font-size="76.8">4</tspan></text>
<mask id="t3" maskUnits="userSpaceOnUse" x="0" y="0" width="2084" height="1326"><rect width="2084" height="1326" fill="#fff"/><g fill="#000"><rect x="1230.44" y="1268.49" width="9.04" height="7.51"/><rect x="1244.63" y="1268.49" width="8.67" height="7.51"/></g></mask><text font-family="'Liberation Sans', sans-serif" fill="#000" stroke="#000" stroke-width="1.0" stroke-linejoin="round" mask="url(#t3)" style="font-kerning:none"><tspan x="1043.70" y="1309.00" font-size="76.4">q [fm</tspan><tspan x="1210.91" y="1274.00" font-size="47">-</tspan><tspan x="1228.16" y="1274.00" font-size="47">1</tspan><tspan x="1247.30" y="1309.00" font-size="76.4">]</tspan></text>
<text font-family="'Liberation Sans', sans-serif" fill="#000" stroke="#000" stroke-width="1.0" stroke-linejoin="round" transform="translate(55.50 700.00) rotate(-90)" style="font-kerning:none"><tspan x="0.00" y="0.00" font-size="76.4">pp / pn</tspan></text>
<g stroke="#ff00ff" stroke-width="6.8" fill="#ff00ff">
<line x1="985.4" y1="989.7" x2="1331.7" y2="989.7"/>
<line x1="1158.7" y1="888.7" x2="1158.7" y2="1091.5"/>
<rect x="1146.2" y="977.2" width="25.0" height="25.0" stroke="none"/>
<line x1="1251.5" y1="895.5" x2="1559.7" y2="895.5"/>
<line x1="1405.2" y1="805.8" x2="1405.2" y2="984.5"/>
<rect x="1392.7" y="883.0" width="25.0" height="25.0" stroke="none"/>
<line x1="1497.5" y1="759.3" x2="1806.5" y2="759.3"/>
<line x1="1652.0" y1="612.4" x2="1652.0" y2="905.0"/>
<rect x="1639.5" y="746.8" width="25.0" height="25.0" stroke="none"/>
</g>
<text font-family="'Liberation Sans', sans-serif" font-weight="bold" fill="#ff0000" stroke="#ff0000" stroke-width="1.0" stroke-linejoin="round" transform="matrix(1 0 0 1.0400 0 -17.392)" style="font-kerning:none"><tspan x="1766.30" y="434.80" font-size="63.4">AV4'+UIX</tspan><tspan x="2049.42" y="450.80" font-size="42">c</tspan></text>
<mask id="t4" maskUnits="userSpaceOnUse" x="0" y="0" width="2084" height="1326"><rect width="2084" height="1326" fill="#fff"/><g fill="#000"><rect x="1849.32" y="660.33" width="11.60" height="10.47"/><rect x="1870.63" y="660.33" width="10.80" height="10.47"/></g></mask><text font-family="'Liberation Sans', sans-serif" font-weight="bold" fill="#1aae1a" stroke="#1aae1a" stroke-width="1.0" stroke-linejoin="round" mask="url(#t4)" transform="matrix(1 0 0 1.0400 0 -26.752)" style="font-kerning:none"><tspan x="1670.00" y="668.80" font-size="63.4">N</tspan><tspan x="1713.99" y="640.50" font-size="39">2</tspan><tspan x="1737.48" y="668.80" font-size="63.4">LO(1.0fm)</tspan></text>
<mask id="t5" maskUnits="userSpaceOnUse" x="0" y="0" width="2084" height="1326"><rect width="2084" height="1326" fill="#fff"/><g fill="#000"><rect x="1745.17" y="894.53" width="11.60" height="10.47"/><rect x="1766.47" y="894.53" width="10.80" height="10.47"/></g></mask><text font-family="'Liberation Sans', sans-serif" font-weight="bold" fill="#000000" stroke="#000000" stroke-width="1.0" stroke-linejoin="round" mask="url(#t5)" transform="matrix(1 0 0 1.0400 0 -36.120)" style="font-kerning:none"><tspan x="1654.40" y="903.00" font-size="63.4">AV18+UX</tspan></text>
<mask id="t6" maskUnits="userSpaceOnUse" x="0" y="0" width="2084" height="1326"><rect width="2084" height="1326" fill="#fff"/><g fill="#000"><rect x="1515.32" y="1096.03" width="11.60" height="10.47"/><rect x="1536.63" y="1096.03" width="10.80" height="10.47"/></g></mask><text font-family="'Liberation Sans', sans-serif" font-weight="bold" fill="#0a73f0" stroke="#0a73f0" stroke-width="1.0" stroke-linejoin="round" mask="url(#t6)" transform="matrix(1 0 0 1.0400 0 -44.180)" style="font-kerning:none"><tspan x="1336.00" y="1104.50" font-size="63.4">N</tspan><tspan x="1379.99" y="1076.20" font-size="39">2</tspan><tspan x="1403.48" y="1104.50" font-size="63.4">LO(1.2fm)</tspan></text>
<text font-family="'Liberation Sans', sans-serif" font-weight="bold" fill="#ff00ff" stroke="#ff00ff" stroke-width="1.0" stroke-linejoin="round" transform="matrix(1 0 0 1.0400 0 -30.776)" style="font-kerning:none"><tspan x="1025.00" y="769.40" font-size="63.4">Korover et al.</tspan></text>
</svg>
</body>
</html>
